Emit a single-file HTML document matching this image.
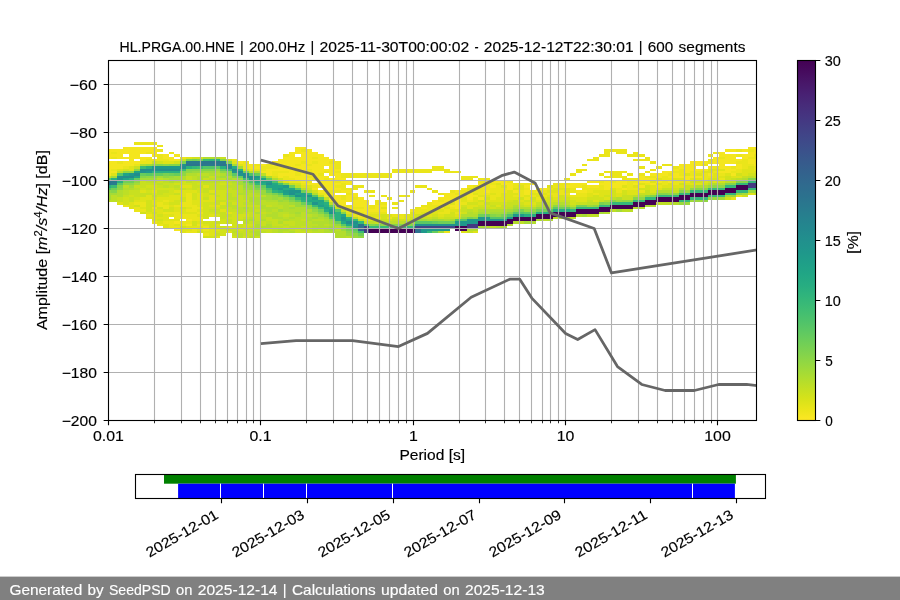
<!DOCTYPE html>
<html><head><meta charset="utf-8"><title>PPSD HL.PRGA.00.HNE</title>
<style>html,body{margin:0;padding:0;background:#fff;font-family:"Liberation Sans",sans-serif}svg{display:block;will-change:transform}</style></head>
<body>
<svg width="900" height="600" viewBox="0 0 900 600" font-family="Liberation Sans, sans-serif" font-size="14.3" fill="#000">
<style>text{stroke:#000;stroke-width:0.15px}text.w{stroke:#fff}</style>
<rect x="0" y="0" width="900" height="600" fill="#fff"/>
<defs><clipPath id="axclip"><rect x="108.5" y="60.5" width="648.0" height="360.0"/></clipPath>
<linearGradient id="cb" x1="0" y1="0" x2="0" y2="1"><stop offset="0.0000" stop-color="#440154"/><stop offset="0.0312" stop-color="#460b5e"/><stop offset="0.0625" stop-color="#481769"/><stop offset="0.0938" stop-color="#482173"/><stop offset="0.1250" stop-color="#472c7a"/><stop offset="0.1562" stop-color="#453581"/><stop offset="0.1875" stop-color="#423f85"/><stop offset="0.2188" stop-color="#3f4889"/><stop offset="0.2500" stop-color="#3b518b"/><stop offset="0.2812" stop-color="#375a8c"/><stop offset="0.3125" stop-color="#33628d"/><stop offset="0.3438" stop-color="#306a8e"/><stop offset="0.3750" stop-color="#2c718e"/><stop offset="0.4062" stop-color="#29798e"/><stop offset="0.4375" stop-color="#26818e"/><stop offset="0.4688" stop-color="#23888e"/><stop offset="0.5000" stop-color="#21908d"/><stop offset="0.5312" stop-color="#1f978b"/><stop offset="0.5625" stop-color="#1f9f88"/><stop offset="0.5938" stop-color="#21a685"/><stop offset="0.6250" stop-color="#27ad81"/><stop offset="0.6562" stop-color="#31b57b"/><stop offset="0.6875" stop-color="#3dbc74"/><stop offset="0.7188" stop-color="#4cc26c"/><stop offset="0.7500" stop-color="#5cc863"/><stop offset="0.7812" stop-color="#6ece58"/><stop offset="0.8125" stop-color="#81d34d"/><stop offset="0.8438" stop-color="#95d840"/><stop offset="0.8750" stop-color="#aadc32"/><stop offset="0.9062" stop-color="#c0df25"/><stop offset="0.9375" stop-color="#d5e21a"/><stop offset="0.9688" stop-color="#eae51a"/><stop offset="1.0000" stop-color="#fde725"/></linearGradient></defs>
<g id="heat" clip-path="url(#axclip)" shape-rendering="crispEdges">
<rect x="105.63" y="149.3" width="5.78" height="9.7" fill="#f4e61e"/>
<rect x="105.63" y="161.3" width="5.78" height="14.4" fill="#f4e61e"/>
<rect x="105.63" y="175.7" width="5.78" height="2.4" fill="#c8e020"/>
<rect x="105.63" y="178.1" width="5.78" height="2.4" fill="#5cc863"/>
<rect x="105.63" y="180.5" width="5.78" height="4.8" fill="#2b748e"/>
<rect x="105.63" y="185.3" width="5.78" height="2.4" fill="#2ab07f"/>
<rect x="105.63" y="187.7" width="5.78" height="2.4" fill="#54c568"/>
<rect x="105.63" y="190.1" width="5.78" height="2.4" fill="#90d743"/>
<rect x="105.63" y="192.5" width="5.78" height="7.2" fill="#a5db36"/>
<rect x="105.63" y="199.7" width="5.78" height="2.4" fill="#bddf26"/>
<rect x="111.37" y="149.3" width="5.78" height="2.4" fill="#f4e61e"/>
<rect x="111.37" y="151.7" width="5.78" height="2.4" fill="#eae51a"/>
<rect x="111.37" y="154.1" width="5.78" height="2.4" fill="#f4e61e"/>
<rect x="111.37" y="156.5" width="5.78" height="2.4" fill="#eae51a"/>
<rect x="111.37" y="161.3" width="5.78" height="7.2" fill="#f4e61e"/>
<rect x="111.37" y="168.5" width="5.78" height="2.4" fill="#eae51a"/>
<rect x="111.37" y="170.9" width="5.78" height="2.4" fill="#f4e61e"/>
<rect x="111.37" y="173.3" width="5.78" height="2.4" fill="#dfe318"/>
<rect x="111.37" y="175.7" width="5.78" height="2.4" fill="#a5db36"/>
<rect x="111.37" y="178.1" width="5.78" height="2.4" fill="#2ab07f"/>
<rect x="111.37" y="180.5" width="5.78" height="2.4" fill="#2a788e"/>
<rect x="111.37" y="182.9" width="5.78" height="2.4" fill="#287c8e"/>
<rect x="111.37" y="185.3" width="5.78" height="2.4" fill="#3bbb75"/>
<rect x="111.37" y="187.7" width="5.78" height="2.4" fill="#70cf57"/>
<rect x="111.37" y="190.1" width="5.78" height="2.4" fill="#86d549"/>
<rect x="111.37" y="192.5" width="5.78" height="2.4" fill="#a5db36"/>
<rect x="111.37" y="194.9" width="5.78" height="7.2" fill="#bddf26"/>
<rect x="117.10" y="149.3" width="5.78" height="9.7" fill="#f4e61e"/>
<rect x="117.10" y="161.3" width="5.78" height="2.4" fill="#eae51a"/>
<rect x="117.10" y="163.7" width="5.78" height="4.8" fill="#f4e61e"/>
<rect x="117.10" y="168.5" width="5.78" height="2.4" fill="#dfe318"/>
<rect x="117.10" y="170.9" width="5.78" height="2.4" fill="#bddf26"/>
<rect x="117.10" y="173.3" width="5.78" height="2.4" fill="#54c568"/>
<rect x="117.10" y="175.7" width="5.78" height="4.8" fill="#21908d"/>
<rect x="117.10" y="180.5" width="5.78" height="2.4" fill="#2ab07f"/>
<rect x="117.10" y="182.9" width="5.78" height="2.4" fill="#5cc863"/>
<rect x="117.10" y="185.3" width="5.78" height="2.4" fill="#86d549"/>
<rect x="117.10" y="187.7" width="5.78" height="2.4" fill="#90d743"/>
<rect x="117.10" y="190.1" width="5.78" height="7.2" fill="#b2dd2d"/>
<rect x="117.10" y="197.3" width="5.78" height="4.8" fill="#c8e020"/>
<rect x="117.10" y="202.1" width="5.78" height="2.4" fill="#dfe318"/>
<rect x="122.83" y="146.9" width="5.78" height="7.2" fill="#f4e61e"/>
<rect x="122.83" y="156.5" width="5.78" height="2.4" fill="#f4e61e"/>
<rect x="122.83" y="161.3" width="5.78" height="4.8" fill="#f4e61e"/>
<rect x="122.83" y="166.1" width="5.78" height="2.4" fill="#eae51a"/>
<rect x="122.83" y="168.5" width="5.78" height="2.4" fill="#d2e21b"/>
<rect x="122.83" y="170.9" width="5.78" height="2.4" fill="#90d743"/>
<rect x="122.83" y="173.3" width="5.78" height="2.4" fill="#20a486"/>
<rect x="122.83" y="175.7" width="5.78" height="2.4" fill="#228c8d"/>
<rect x="122.83" y="178.1" width="5.78" height="2.4" fill="#20a486"/>
<rect x="122.83" y="180.5" width="5.78" height="2.4" fill="#70cf57"/>
<rect x="122.83" y="182.9" width="5.78" height="2.4" fill="#90d743"/>
<rect x="122.83" y="185.3" width="5.78" height="2.4" fill="#bddf26"/>
<rect x="122.83" y="187.7" width="5.78" height="2.4" fill="#b2dd2d"/>
<rect x="122.83" y="190.1" width="5.78" height="4.8" fill="#bddf26"/>
<rect x="122.83" y="194.9" width="5.78" height="2.4" fill="#c8e020"/>
<rect x="122.83" y="197.3" width="5.78" height="7.2" fill="#d2e21b"/>
<rect x="122.83" y="204.5" width="5.78" height="2.4" fill="#eae51a"/>
<rect x="128.57" y="146.9" width="5.78" height="19.2" fill="#f4e61e"/>
<rect x="128.57" y="166.1" width="5.78" height="4.8" fill="#dfe318"/>
<rect x="128.57" y="170.9" width="5.78" height="2.4" fill="#90d743"/>
<rect x="128.57" y="173.3" width="5.78" height="2.4" fill="#1f988b"/>
<rect x="128.57" y="175.7" width="5.78" height="2.4" fill="#228c8d"/>
<rect x="128.57" y="178.1" width="5.78" height="2.4" fill="#2ab07f"/>
<rect x="128.57" y="180.5" width="5.78" height="2.4" fill="#70cf57"/>
<rect x="128.57" y="182.9" width="5.78" height="2.4" fill="#90d743"/>
<rect x="128.57" y="185.3" width="5.78" height="2.4" fill="#a5db36"/>
<rect x="128.57" y="187.7" width="5.78" height="2.4" fill="#b2dd2d"/>
<rect x="128.57" y="190.1" width="5.78" height="4.8" fill="#c8e020"/>
<rect x="128.57" y="194.9" width="5.78" height="2.4" fill="#d2e21b"/>
<rect x="128.57" y="197.3" width="5.78" height="4.8" fill="#c8e020"/>
<rect x="128.57" y="202.1" width="5.78" height="7.2" fill="#dfe318"/>
<rect x="134.30" y="142.1" width="5.78" height="2.4" fill="#eae51a"/>
<rect x="134.30" y="146.9" width="5.78" height="12.1" fill="#f4e61e"/>
<rect x="134.30" y="161.3" width="5.78" height="2.4" fill="#f4e61e"/>
<rect x="134.30" y="163.7" width="5.78" height="2.4" fill="#eae51a"/>
<rect x="134.30" y="166.1" width="5.78" height="2.4" fill="#c8e020"/>
<rect x="134.30" y="168.5" width="5.78" height="2.4" fill="#90d743"/>
<rect x="134.30" y="170.9" width="5.78" height="2.4" fill="#20a486"/>
<rect x="134.30" y="173.3" width="5.78" height="2.4" fill="#228c8d"/>
<rect x="134.30" y="175.7" width="5.78" height="2.4" fill="#20a486"/>
<rect x="134.30" y="178.1" width="5.78" height="2.4" fill="#67cc5c"/>
<rect x="134.30" y="180.5" width="5.78" height="2.4" fill="#90d743"/>
<rect x="134.30" y="182.9" width="5.78" height="2.4" fill="#a5db36"/>
<rect x="134.30" y="185.3" width="5.78" height="2.4" fill="#c8e020"/>
<rect x="134.30" y="187.7" width="5.78" height="2.4" fill="#bddf26"/>
<rect x="134.30" y="190.1" width="5.78" height="7.2" fill="#c8e020"/>
<rect x="134.30" y="197.3" width="5.78" height="2.4" fill="#d2e21b"/>
<rect x="134.30" y="199.7" width="5.78" height="2.4" fill="#dfe318"/>
<rect x="134.30" y="202.1" width="5.78" height="2.4" fill="#eae51a"/>
<rect x="134.30" y="204.5" width="5.78" height="2.4" fill="#d2e21b"/>
<rect x="134.30" y="206.9" width="5.78" height="4.8" fill="#eae51a"/>
<rect x="140.03" y="142.1" width="5.78" height="2.4" fill="#eae51a"/>
<rect x="140.03" y="146.9" width="5.78" height="7.2" fill="#f4e61e"/>
<rect x="140.03" y="156.5" width="5.78" height="4.8" fill="#f4e61e"/>
<rect x="140.03" y="161.3" width="5.78" height="2.4" fill="#eae51a"/>
<rect x="140.03" y="163.7" width="5.78" height="2.4" fill="#b2dd2d"/>
<rect x="140.03" y="166.1" width="5.78" height="2.4" fill="#3bbb75"/>
<rect x="140.03" y="168.5" width="5.78" height="2.4" fill="#228c8d"/>
<rect x="140.03" y="170.9" width="5.78" height="2.4" fill="#21908d"/>
<rect x="140.03" y="173.3" width="5.78" height="2.4" fill="#67cc5c"/>
<rect x="140.03" y="175.7" width="5.78" height="2.4" fill="#86d549"/>
<rect x="140.03" y="178.1" width="5.78" height="2.4" fill="#a5db36"/>
<rect x="140.03" y="180.5" width="5.78" height="7.2" fill="#c8e020"/>
<rect x="140.03" y="187.7" width="5.78" height="2.4" fill="#d2e21b"/>
<rect x="140.03" y="190.1" width="5.78" height="2.4" fill="#dfe318"/>
<rect x="140.03" y="192.5" width="5.78" height="4.8" fill="#c8e020"/>
<rect x="140.03" y="197.3" width="5.78" height="4.8" fill="#dfe318"/>
<rect x="140.03" y="202.1" width="5.78" height="4.8" fill="#eae51a"/>
<rect x="140.03" y="206.9" width="5.78" height="2.4" fill="#dfe318"/>
<rect x="140.03" y="209.3" width="5.78" height="2.4" fill="#eae51a"/>
<rect x="140.03" y="211.7" width="5.78" height="2.4" fill="#d2e21b"/>
<rect x="145.77" y="142.1" width="5.78" height="2.4" fill="#eae51a"/>
<rect x="145.77" y="146.9" width="5.78" height="4.8" fill="#f4e61e"/>
<rect x="145.77" y="151.7" width="5.78" height="2.4" fill="#eae51a"/>
<rect x="145.77" y="156.5" width="5.78" height="2.4" fill="#f4e61e"/>
<rect x="145.77" y="158.9" width="5.78" height="4.8" fill="#eae51a"/>
<rect x="145.77" y="163.7" width="5.78" height="2.4" fill="#a5db36"/>
<rect x="145.77" y="166.1" width="5.78" height="2.4" fill="#2ab07f"/>
<rect x="145.77" y="168.5" width="5.78" height="2.4" fill="#228c8d"/>
<rect x="145.77" y="170.9" width="5.78" height="2.4" fill="#1f988b"/>
<rect x="145.77" y="173.3" width="5.78" height="2.4" fill="#5cc863"/>
<rect x="145.77" y="175.7" width="5.78" height="2.4" fill="#90d743"/>
<rect x="145.77" y="178.1" width="5.78" height="2.4" fill="#a5db36"/>
<rect x="145.77" y="180.5" width="5.78" height="2.4" fill="#bddf26"/>
<rect x="145.77" y="182.9" width="5.78" height="2.4" fill="#c8e020"/>
<rect x="145.77" y="185.3" width="5.78" height="2.4" fill="#d2e21b"/>
<rect x="145.77" y="187.7" width="5.78" height="2.4" fill="#c8e020"/>
<rect x="145.77" y="190.1" width="5.78" height="2.4" fill="#d2e21b"/>
<rect x="145.77" y="192.5" width="5.78" height="2.4" fill="#c8e020"/>
<rect x="145.77" y="194.9" width="5.78" height="4.8" fill="#dfe318"/>
<rect x="145.77" y="199.7" width="5.78" height="12.1" fill="#d2e21b"/>
<rect x="145.77" y="211.7" width="5.78" height="2.4" fill="#dfe318"/>
<rect x="145.77" y="214.1" width="5.78" height="2.4" fill="#eae51a"/>
<rect x="145.77" y="216.5" width="5.78" height="2.4" fill="#dfe318"/>
<rect x="151.50" y="142.1" width="5.78" height="2.4" fill="#eae51a"/>
<rect x="151.50" y="146.9" width="5.78" height="9.7" fill="#f4e61e"/>
<rect x="151.50" y="158.9" width="5.78" height="2.4" fill="#eae51a"/>
<rect x="151.50" y="161.3" width="5.78" height="2.4" fill="#c8e020"/>
<rect x="151.50" y="163.7" width="5.78" height="2.4" fill="#90d743"/>
<rect x="151.50" y="166.1" width="5.78" height="2.4" fill="#1f988b"/>
<rect x="151.50" y="168.5" width="5.78" height="2.4" fill="#228c8d"/>
<rect x="151.50" y="170.9" width="5.78" height="2.4" fill="#2ab07f"/>
<rect x="151.50" y="173.3" width="5.78" height="2.4" fill="#67cc5c"/>
<rect x="151.50" y="175.7" width="5.78" height="2.4" fill="#90d743"/>
<rect x="151.50" y="178.1" width="5.78" height="2.4" fill="#a5db36"/>
<rect x="151.50" y="180.5" width="5.78" height="2.4" fill="#bddf26"/>
<rect x="151.50" y="182.9" width="5.78" height="2.4" fill="#c8e020"/>
<rect x="151.50" y="185.3" width="5.78" height="4.8" fill="#d2e21b"/>
<rect x="151.50" y="190.1" width="5.78" height="2.4" fill="#dfe318"/>
<rect x="151.50" y="192.5" width="5.78" height="2.4" fill="#d2e21b"/>
<rect x="151.50" y="194.9" width="5.78" height="2.4" fill="#c8e020"/>
<rect x="151.50" y="197.3" width="5.78" height="2.4" fill="#d2e21b"/>
<rect x="151.50" y="199.7" width="5.78" height="4.8" fill="#dfe318"/>
<rect x="151.50" y="204.5" width="5.78" height="2.4" fill="#d2e21b"/>
<rect x="151.50" y="206.9" width="5.78" height="2.4" fill="#eae51a"/>
<rect x="151.50" y="209.3" width="5.78" height="2.4" fill="#dfe318"/>
<rect x="151.50" y="211.7" width="5.78" height="2.4" fill="#d2e21b"/>
<rect x="151.50" y="214.1" width="5.78" height="7.2" fill="#dfe318"/>
<rect x="151.50" y="221.3" width="5.78" height="2.4" fill="#eae51a"/>
<rect x="157.23" y="144.5" width="5.78" height="2.4" fill="#eae51a"/>
<rect x="157.23" y="149.3" width="5.78" height="2.4" fill="#eae51a"/>
<rect x="157.23" y="154.1" width="5.78" height="7.2" fill="#eae51a"/>
<rect x="157.23" y="161.3" width="5.78" height="2.4" fill="#d2e21b"/>
<rect x="157.23" y="163.7" width="5.78" height="2.4" fill="#86d549"/>
<rect x="157.23" y="166.1" width="5.78" height="2.4" fill="#1f988b"/>
<rect x="157.23" y="168.5" width="5.78" height="2.4" fill="#228c8d"/>
<rect x="157.23" y="170.9" width="5.78" height="2.4" fill="#2ab07f"/>
<rect x="157.23" y="173.3" width="5.78" height="2.4" fill="#67cc5c"/>
<rect x="157.23" y="175.7" width="5.78" height="2.4" fill="#a5db36"/>
<rect x="157.23" y="178.1" width="5.78" height="2.4" fill="#bddf26"/>
<rect x="157.23" y="180.5" width="5.78" height="2.4" fill="#c8e020"/>
<rect x="157.23" y="182.9" width="5.78" height="2.4" fill="#bddf26"/>
<rect x="157.23" y="185.3" width="5.78" height="2.4" fill="#c8e020"/>
<rect x="157.23" y="187.7" width="5.78" height="2.4" fill="#d2e21b"/>
<rect x="157.23" y="190.1" width="5.78" height="4.8" fill="#c8e020"/>
<rect x="157.23" y="194.9" width="5.78" height="2.4" fill="#d2e21b"/>
<rect x="157.23" y="197.3" width="5.78" height="4.8" fill="#dfe318"/>
<rect x="157.23" y="202.1" width="5.78" height="4.8" fill="#eae51a"/>
<rect x="157.23" y="206.9" width="5.78" height="2.4" fill="#d2e21b"/>
<rect x="157.23" y="209.3" width="5.78" height="4.8" fill="#dfe318"/>
<rect x="157.23" y="214.1" width="5.78" height="2.4" fill="#d2e21b"/>
<rect x="157.23" y="216.5" width="5.78" height="2.4" fill="#dfe318"/>
<rect x="157.23" y="218.9" width="5.78" height="2.4" fill="#d2e21b"/>
<rect x="157.23" y="221.3" width="5.78" height="2.4" fill="#dfe318"/>
<rect x="157.23" y="223.7" width="5.78" height="2.4" fill="#eae51a"/>
<rect x="162.97" y="154.1" width="5.78" height="4.8" fill="#f4e61e"/>
<rect x="162.97" y="158.9" width="5.78" height="2.4" fill="#eae51a"/>
<rect x="162.97" y="161.3" width="5.78" height="2.4" fill="#dfe318"/>
<rect x="162.97" y="163.7" width="5.78" height="2.4" fill="#90d743"/>
<rect x="162.97" y="166.1" width="5.78" height="2.4" fill="#1f988b"/>
<rect x="162.97" y="168.5" width="5.78" height="2.4" fill="#228c8d"/>
<rect x="162.97" y="170.9" width="5.78" height="2.4" fill="#2ab07f"/>
<rect x="162.97" y="173.3" width="5.78" height="2.4" fill="#7ad151"/>
<rect x="162.97" y="175.7" width="5.78" height="2.4" fill="#90d743"/>
<rect x="162.97" y="178.1" width="5.78" height="2.4" fill="#b2dd2d"/>
<rect x="162.97" y="180.5" width="5.78" height="2.4" fill="#bddf26"/>
<rect x="162.97" y="182.9" width="5.78" height="2.4" fill="#c8e020"/>
<rect x="162.97" y="185.3" width="5.78" height="2.4" fill="#bddf26"/>
<rect x="162.97" y="187.7" width="5.78" height="2.4" fill="#d2e21b"/>
<rect x="162.97" y="190.1" width="5.78" height="2.4" fill="#c8e020"/>
<rect x="162.97" y="192.5" width="5.78" height="4.8" fill="#d2e21b"/>
<rect x="162.97" y="197.3" width="5.78" height="2.4" fill="#dfe318"/>
<rect x="162.97" y="199.7" width="5.78" height="2.4" fill="#eae51a"/>
<rect x="162.97" y="202.1" width="5.78" height="2.4" fill="#dfe318"/>
<rect x="162.97" y="204.5" width="5.78" height="4.8" fill="#eae51a"/>
<rect x="162.97" y="209.3" width="5.78" height="2.4" fill="#d2e21b"/>
<rect x="162.97" y="211.7" width="5.78" height="2.4" fill="#eae51a"/>
<rect x="162.97" y="214.1" width="5.78" height="7.2" fill="#dfe318"/>
<rect x="162.97" y="221.3" width="5.78" height="2.4" fill="#eae51a"/>
<rect x="162.97" y="223.7" width="5.78" height="4.8" fill="#dfe318"/>
<rect x="168.70" y="151.7" width="5.78" height="2.4" fill="#eae51a"/>
<rect x="168.70" y="156.5" width="5.78" height="4.8" fill="#f4e61e"/>
<rect x="168.70" y="161.3" width="5.78" height="2.4" fill="#dfe318"/>
<rect x="168.70" y="163.7" width="5.78" height="2.4" fill="#86d549"/>
<rect x="168.70" y="166.1" width="5.78" height="2.4" fill="#1f988b"/>
<rect x="168.70" y="168.5" width="5.78" height="2.4" fill="#228c8d"/>
<rect x="168.70" y="170.9" width="5.78" height="2.4" fill="#2ab07f"/>
<rect x="168.70" y="173.3" width="5.78" height="2.4" fill="#70cf57"/>
<rect x="168.70" y="175.7" width="5.78" height="2.4" fill="#9bd93c"/>
<rect x="168.70" y="178.1" width="5.78" height="2.4" fill="#a5db36"/>
<rect x="168.70" y="180.5" width="5.78" height="2.4" fill="#b2dd2d"/>
<rect x="168.70" y="182.9" width="5.78" height="4.8" fill="#c8e020"/>
<rect x="168.70" y="187.7" width="5.78" height="7.2" fill="#d2e21b"/>
<rect x="168.70" y="194.9" width="5.78" height="7.2" fill="#dfe318"/>
<rect x="168.70" y="202.1" width="5.78" height="2.4" fill="#d2e21b"/>
<rect x="168.70" y="204.5" width="5.78" height="2.4" fill="#dfe318"/>
<rect x="168.70" y="206.9" width="5.78" height="4.8" fill="#d2e21b"/>
<rect x="168.70" y="211.7" width="5.78" height="2.4" fill="#eae51a"/>
<rect x="168.70" y="214.1" width="5.78" height="2.4" fill="#dfe318"/>
<rect x="168.70" y="218.9" width="5.78" height="2.4" fill="#dfe318"/>
<rect x="168.70" y="221.3" width="5.78" height="7.2" fill="#eae51a"/>
<rect x="174.43" y="154.1" width="5.78" height="2.4" fill="#f4e61e"/>
<rect x="174.43" y="158.9" width="5.78" height="2.4" fill="#f4e61e"/>
<rect x="174.43" y="161.3" width="5.78" height="2.4" fill="#d2e21b"/>
<rect x="174.43" y="163.7" width="5.78" height="2.4" fill="#86d549"/>
<rect x="174.43" y="166.1" width="5.78" height="2.4" fill="#1f988b"/>
<rect x="174.43" y="168.5" width="5.78" height="2.4" fill="#228c8d"/>
<rect x="174.43" y="170.9" width="5.78" height="2.4" fill="#2ab07f"/>
<rect x="174.43" y="173.3" width="5.78" height="2.4" fill="#67cc5c"/>
<rect x="174.43" y="175.7" width="5.78" height="4.8" fill="#a5db36"/>
<rect x="174.43" y="180.5" width="5.78" height="2.4" fill="#bddf26"/>
<rect x="174.43" y="182.9" width="5.78" height="2.4" fill="#d2e21b"/>
<rect x="174.43" y="185.3" width="5.78" height="2.4" fill="#bddf26"/>
<rect x="174.43" y="187.7" width="5.78" height="2.4" fill="#c8e020"/>
<rect x="174.43" y="190.1" width="5.78" height="2.4" fill="#dfe318"/>
<rect x="174.43" y="192.5" width="5.78" height="2.4" fill="#c8e020"/>
<rect x="174.43" y="194.9" width="5.78" height="4.8" fill="#dfe318"/>
<rect x="174.43" y="199.7" width="5.78" height="4.8" fill="#d2e21b"/>
<rect x="174.43" y="204.5" width="5.78" height="2.4" fill="#eae51a"/>
<rect x="174.43" y="206.9" width="5.78" height="4.8" fill="#dfe318"/>
<rect x="174.43" y="211.7" width="5.78" height="7.2" fill="#eae51a"/>
<rect x="174.43" y="218.9" width="5.78" height="2.4" fill="#dfe318"/>
<rect x="174.43" y="221.3" width="5.78" height="2.4" fill="#f4e61e"/>
<rect x="174.43" y="223.7" width="5.78" height="2.4" fill="#dfe318"/>
<rect x="174.43" y="226.1" width="5.78" height="2.4" fill="#eae51a"/>
<rect x="174.43" y="228.5" width="5.78" height="2.4" fill="#f4e61e"/>
<rect x="180.17" y="156.5" width="5.78" height="2.4" fill="#eae51a"/>
<rect x="180.17" y="158.9" width="5.78" height="2.4" fill="#c8e020"/>
<rect x="180.17" y="161.3" width="5.78" height="2.4" fill="#7ad151"/>
<rect x="180.17" y="163.7" width="5.78" height="2.4" fill="#21908d"/>
<rect x="180.17" y="166.1" width="5.78" height="2.4" fill="#228c8d"/>
<rect x="180.17" y="168.5" width="5.78" height="2.4" fill="#3bbb75"/>
<rect x="180.17" y="170.9" width="5.78" height="2.4" fill="#86d549"/>
<rect x="180.17" y="173.3" width="5.78" height="2.4" fill="#90d743"/>
<rect x="180.17" y="175.7" width="5.78" height="4.8" fill="#b2dd2d"/>
<rect x="180.17" y="180.5" width="5.78" height="4.8" fill="#d2e21b"/>
<rect x="180.17" y="185.3" width="5.78" height="2.4" fill="#dfe318"/>
<rect x="180.17" y="187.7" width="5.78" height="2.4" fill="#c8e020"/>
<rect x="180.17" y="190.1" width="5.78" height="7.2" fill="#dfe318"/>
<rect x="180.17" y="197.3" width="5.78" height="4.8" fill="#d2e21b"/>
<rect x="180.17" y="202.1" width="5.78" height="4.8" fill="#eae51a"/>
<rect x="180.17" y="206.9" width="5.78" height="2.4" fill="#d2e21b"/>
<rect x="180.17" y="209.3" width="5.78" height="4.8" fill="#dfe318"/>
<rect x="180.17" y="214.1" width="5.78" height="4.8" fill="#eae51a"/>
<rect x="180.17" y="221.3" width="5.78" height="4.8" fill="#eae51a"/>
<rect x="180.17" y="226.1" width="5.78" height="2.4" fill="#d2e21b"/>
<rect x="180.17" y="228.5" width="5.78" height="4.8" fill="#dfe318"/>
<rect x="185.90" y="156.5" width="5.78" height="2.4" fill="#dfe318"/>
<rect x="185.90" y="158.9" width="5.78" height="2.4" fill="#7ad151"/>
<rect x="185.90" y="161.3" width="5.78" height="2.4" fill="#2a788e"/>
<rect x="185.90" y="163.7" width="5.78" height="2.4" fill="#2b748e"/>
<rect x="185.90" y="166.1" width="5.78" height="2.4" fill="#2ab07f"/>
<rect x="185.90" y="168.5" width="5.78" height="2.4" fill="#86d549"/>
<rect x="185.90" y="170.9" width="5.78" height="2.4" fill="#90d743"/>
<rect x="185.90" y="173.3" width="5.78" height="2.4" fill="#b2dd2d"/>
<rect x="185.90" y="175.7" width="5.78" height="4.8" fill="#c8e020"/>
<rect x="185.90" y="180.5" width="5.78" height="2.4" fill="#bddf26"/>
<rect x="185.90" y="182.9" width="5.78" height="2.4" fill="#d2e21b"/>
<rect x="185.90" y="185.3" width="5.78" height="2.4" fill="#dfe318"/>
<rect x="185.90" y="187.7" width="5.78" height="2.4" fill="#d2e21b"/>
<rect x="185.90" y="190.1" width="5.78" height="2.4" fill="#dfe318"/>
<rect x="185.90" y="192.5" width="5.78" height="14.4" fill="#eae51a"/>
<rect x="185.90" y="206.9" width="5.78" height="2.4" fill="#dfe318"/>
<rect x="185.90" y="209.3" width="5.78" height="2.4" fill="#eae51a"/>
<rect x="185.90" y="211.7" width="5.78" height="2.4" fill="#dfe318"/>
<rect x="185.90" y="214.1" width="5.78" height="4.8" fill="#eae51a"/>
<rect x="185.90" y="218.9" width="5.78" height="2.4" fill="#f4e61e"/>
<rect x="185.90" y="221.3" width="5.78" height="2.4" fill="#eae51a"/>
<rect x="185.90" y="223.7" width="5.78" height="2.4" fill="#f4e61e"/>
<rect x="185.90" y="226.1" width="5.78" height="4.8" fill="#dfe318"/>
<rect x="185.90" y="230.9" width="5.78" height="2.4" fill="#eae51a"/>
<rect x="191.63" y="156.5" width="5.78" height="2.4" fill="#d2e21b"/>
<rect x="191.63" y="158.9" width="5.78" height="2.4" fill="#70cf57"/>
<rect x="191.63" y="161.3" width="5.78" height="2.4" fill="#2a788e"/>
<rect x="191.63" y="163.7" width="5.78" height="2.4" fill="#2b748e"/>
<rect x="191.63" y="166.1" width="5.78" height="2.4" fill="#35b779"/>
<rect x="191.63" y="168.5" width="5.78" height="2.4" fill="#86d549"/>
<rect x="191.63" y="170.9" width="5.78" height="2.4" fill="#9bd93c"/>
<rect x="191.63" y="173.3" width="5.78" height="2.4" fill="#b2dd2d"/>
<rect x="191.63" y="175.7" width="5.78" height="4.8" fill="#bddf26"/>
<rect x="191.63" y="180.5" width="5.78" height="9.7" fill="#c8e020"/>
<rect x="191.63" y="190.1" width="5.78" height="2.4" fill="#dfe318"/>
<rect x="191.63" y="192.5" width="5.78" height="7.2" fill="#d2e21b"/>
<rect x="191.63" y="199.7" width="5.78" height="4.8" fill="#dfe318"/>
<rect x="191.63" y="204.5" width="5.78" height="7.2" fill="#eae51a"/>
<rect x="191.63" y="211.7" width="5.78" height="2.4" fill="#dfe318"/>
<rect x="191.63" y="214.1" width="5.78" height="7.2" fill="#eae51a"/>
<rect x="191.63" y="221.3" width="5.78" height="4.8" fill="#d2e21b"/>
<rect x="191.63" y="226.1" width="5.78" height="2.4" fill="#dfe318"/>
<rect x="191.63" y="228.5" width="5.78" height="4.8" fill="#eae51a"/>
<rect x="197.37" y="156.5" width="5.78" height="2.4" fill="#d2e21b"/>
<rect x="197.37" y="158.9" width="5.78" height="2.4" fill="#7ad151"/>
<rect x="197.37" y="161.3" width="5.78" height="2.4" fill="#2a788e"/>
<rect x="197.37" y="163.7" width="5.78" height="2.4" fill="#2b748e"/>
<rect x="197.37" y="166.1" width="5.78" height="2.4" fill="#3bbb75"/>
<rect x="197.37" y="168.5" width="5.78" height="2.4" fill="#86d549"/>
<rect x="197.37" y="170.9" width="5.78" height="2.4" fill="#9bd93c"/>
<rect x="197.37" y="173.3" width="5.78" height="2.4" fill="#bddf26"/>
<rect x="197.37" y="175.7" width="5.78" height="4.8" fill="#b2dd2d"/>
<rect x="197.37" y="180.5" width="5.78" height="2.4" fill="#c8e020"/>
<rect x="197.37" y="182.9" width="5.78" height="2.4" fill="#d2e21b"/>
<rect x="197.37" y="185.3" width="5.78" height="2.4" fill="#c8e020"/>
<rect x="197.37" y="187.7" width="5.78" height="4.8" fill="#d2e21b"/>
<rect x="197.37" y="192.5" width="5.78" height="14.4" fill="#dfe318"/>
<rect x="197.37" y="206.9" width="5.78" height="2.4" fill="#eae51a"/>
<rect x="197.37" y="209.3" width="5.78" height="2.4" fill="#dfe318"/>
<rect x="197.37" y="211.7" width="5.78" height="2.4" fill="#eae51a"/>
<rect x="197.37" y="214.1" width="5.78" height="2.4" fill="#dfe318"/>
<rect x="197.37" y="216.5" width="5.78" height="4.8" fill="#eae51a"/>
<rect x="197.37" y="221.3" width="5.78" height="2.4" fill="#dfe318"/>
<rect x="197.37" y="223.7" width="5.78" height="2.4" fill="#eae51a"/>
<rect x="197.37" y="226.1" width="5.78" height="4.8" fill="#dfe318"/>
<rect x="197.37" y="230.9" width="5.78" height="2.4" fill="#d2e21b"/>
<rect x="203.10" y="156.5" width="5.78" height="2.4" fill="#b2dd2d"/>
<rect x="203.10" y="158.9" width="5.78" height="2.4" fill="#3bbb75"/>
<rect x="203.10" y="161.3" width="5.78" height="2.4" fill="#2b748e"/>
<rect x="203.10" y="163.7" width="5.78" height="2.4" fill="#2a788e"/>
<rect x="203.10" y="166.1" width="5.78" height="2.4" fill="#54c568"/>
<rect x="203.10" y="168.5" width="5.78" height="2.4" fill="#86d549"/>
<rect x="203.10" y="170.9" width="5.78" height="2.4" fill="#a5db36"/>
<rect x="203.10" y="173.3" width="5.78" height="2.4" fill="#bddf26"/>
<rect x="203.10" y="175.7" width="5.78" height="2.4" fill="#b2dd2d"/>
<rect x="203.10" y="178.1" width="5.78" height="2.4" fill="#c8e020"/>
<rect x="203.10" y="180.5" width="5.78" height="2.4" fill="#bddf26"/>
<rect x="203.10" y="182.9" width="5.78" height="2.4" fill="#c8e020"/>
<rect x="203.10" y="185.3" width="5.78" height="2.4" fill="#dfe318"/>
<rect x="203.10" y="187.7" width="5.78" height="4.8" fill="#c8e020"/>
<rect x="203.10" y="192.5" width="5.78" height="4.8" fill="#d2e21b"/>
<rect x="203.10" y="197.3" width="5.78" height="2.4" fill="#c8e020"/>
<rect x="203.10" y="199.7" width="5.78" height="2.4" fill="#dfe318"/>
<rect x="203.10" y="202.1" width="5.78" height="16.9" fill="#d2e21b"/>
<rect x="203.10" y="221.3" width="5.78" height="2.4" fill="#d2e21b"/>
<rect x="203.10" y="223.7" width="5.78" height="2.4" fill="#dfe318"/>
<rect x="203.10" y="226.1" width="5.78" height="4.8" fill="#eae51a"/>
<rect x="203.10" y="230.9" width="5.78" height="2.4" fill="#dfe318"/>
<rect x="203.10" y="233.3" width="5.78" height="2.4" fill="#eae51a"/>
<rect x="203.10" y="235.7" width="5.78" height="2.4" fill="#d2e21b"/>
<rect x="208.84" y="156.5" width="5.78" height="2.4" fill="#b2dd2d"/>
<rect x="208.84" y="158.9" width="5.78" height="2.4" fill="#35b779"/>
<rect x="208.84" y="161.3" width="5.78" height="2.4" fill="#2b748e"/>
<rect x="208.84" y="163.7" width="5.78" height="2.4" fill="#2a788e"/>
<rect x="208.84" y="166.1" width="5.78" height="2.4" fill="#54c568"/>
<rect x="208.84" y="168.5" width="5.78" height="2.4" fill="#86d549"/>
<rect x="208.84" y="170.9" width="5.78" height="2.4" fill="#a5db36"/>
<rect x="208.84" y="173.3" width="5.78" height="2.4" fill="#b2dd2d"/>
<rect x="208.84" y="175.7" width="5.78" height="2.4" fill="#c8e020"/>
<rect x="208.84" y="178.1" width="5.78" height="4.8" fill="#bddf26"/>
<rect x="208.84" y="182.9" width="5.78" height="7.2" fill="#c8e020"/>
<rect x="208.84" y="190.1" width="5.78" height="2.4" fill="#dfe318"/>
<rect x="208.84" y="192.5" width="5.78" height="2.4" fill="#c8e020"/>
<rect x="208.84" y="194.9" width="5.78" height="7.2" fill="#dfe318"/>
<rect x="208.84" y="202.1" width="5.78" height="2.4" fill="#d2e21b"/>
<rect x="208.84" y="204.5" width="5.78" height="2.4" fill="#dfe318"/>
<rect x="208.84" y="206.9" width="5.78" height="2.4" fill="#d2e21b"/>
<rect x="208.84" y="209.3" width="5.78" height="2.4" fill="#c8e020"/>
<rect x="208.84" y="211.7" width="5.78" height="2.4" fill="#d2e21b"/>
<rect x="208.84" y="214.1" width="5.78" height="2.4" fill="#dfe318"/>
<rect x="208.84" y="221.3" width="5.78" height="7.2" fill="#d2e21b"/>
<rect x="208.84" y="228.5" width="5.78" height="7.2" fill="#dfe318"/>
<rect x="208.84" y="235.7" width="5.78" height="2.4" fill="#d2e21b"/>
<rect x="214.57" y="156.5" width="5.78" height="2.4" fill="#b2dd2d"/>
<rect x="214.57" y="158.9" width="5.78" height="2.4" fill="#2ab07f"/>
<rect x="214.57" y="161.3" width="5.78" height="2.4" fill="#2b748e"/>
<rect x="214.57" y="163.7" width="5.78" height="2.4" fill="#2a788e"/>
<rect x="214.57" y="166.1" width="5.78" height="2.4" fill="#5cc863"/>
<rect x="214.57" y="168.5" width="5.78" height="2.4" fill="#9bd93c"/>
<rect x="214.57" y="170.9" width="5.78" height="2.4" fill="#b2dd2d"/>
<rect x="214.57" y="173.3" width="5.78" height="2.4" fill="#bddf26"/>
<rect x="214.57" y="175.7" width="5.78" height="2.4" fill="#b2dd2d"/>
<rect x="214.57" y="178.1" width="5.78" height="4.8" fill="#bddf26"/>
<rect x="214.57" y="182.9" width="5.78" height="7.2" fill="#c8e020"/>
<rect x="214.57" y="190.1" width="5.78" height="4.8" fill="#d2e21b"/>
<rect x="214.57" y="194.9" width="5.78" height="2.4" fill="#c8e020"/>
<rect x="214.57" y="197.3" width="5.78" height="2.4" fill="#d2e21b"/>
<rect x="214.57" y="199.7" width="5.78" height="4.8" fill="#c8e020"/>
<rect x="214.57" y="204.5" width="5.78" height="2.4" fill="#dfe318"/>
<rect x="214.57" y="206.9" width="5.78" height="2.4" fill="#d2e21b"/>
<rect x="214.57" y="209.3" width="5.78" height="4.8" fill="#c8e020"/>
<rect x="214.57" y="214.1" width="5.78" height="2.4" fill="#d2e21b"/>
<rect x="214.57" y="221.3" width="5.78" height="2.4" fill="#c8e020"/>
<rect x="214.57" y="223.7" width="5.78" height="2.4" fill="#dfe318"/>
<rect x="214.57" y="226.1" width="5.78" height="2.4" fill="#d2e21b"/>
<rect x="214.57" y="228.5" width="5.78" height="2.4" fill="#dfe318"/>
<rect x="214.57" y="230.9" width="5.78" height="2.4" fill="#d2e21b"/>
<rect x="214.57" y="233.3" width="5.78" height="2.4" fill="#c8e020"/>
<rect x="214.57" y="235.7" width="5.78" height="2.4" fill="#dfe318"/>
<rect x="220.30" y="156.5" width="5.78" height="2.4" fill="#c8e020"/>
<rect x="220.30" y="158.9" width="5.78" height="2.4" fill="#86d549"/>
<rect x="220.30" y="161.3" width="5.78" height="2.4" fill="#2a788e"/>
<rect x="220.30" y="163.7" width="5.78" height="2.4" fill="#2b748e"/>
<rect x="220.30" y="166.1" width="5.78" height="2.4" fill="#2ab07f"/>
<rect x="220.30" y="168.5" width="5.78" height="2.4" fill="#67cc5c"/>
<rect x="220.30" y="170.9" width="5.78" height="2.4" fill="#90d743"/>
<rect x="220.30" y="173.3" width="5.78" height="2.4" fill="#b2dd2d"/>
<rect x="220.30" y="175.7" width="5.78" height="2.4" fill="#a5db36"/>
<rect x="220.30" y="178.1" width="5.78" height="2.4" fill="#bddf26"/>
<rect x="220.30" y="180.5" width="5.78" height="2.4" fill="#c8e020"/>
<rect x="220.30" y="182.9" width="5.78" height="2.4" fill="#d2e21b"/>
<rect x="220.30" y="185.3" width="5.78" height="4.8" fill="#c8e020"/>
<rect x="220.30" y="190.1" width="5.78" height="9.7" fill="#d2e21b"/>
<rect x="220.30" y="199.7" width="5.78" height="2.4" fill="#c8e020"/>
<rect x="220.30" y="202.1" width="5.78" height="2.4" fill="#dfe318"/>
<rect x="220.30" y="204.5" width="5.78" height="4.8" fill="#c8e020"/>
<rect x="220.30" y="209.3" width="5.78" height="2.4" fill="#dfe318"/>
<rect x="220.30" y="211.7" width="5.78" height="7.2" fill="#c8e020"/>
<rect x="220.30" y="218.9" width="5.78" height="4.8" fill="#d2e21b"/>
<rect x="220.30" y="226.1" width="5.78" height="2.4" fill="#c8e020"/>
<rect x="220.30" y="228.5" width="5.78" height="7.2" fill="#d2e21b"/>
<rect x="226.04" y="158.9" width="5.78" height="2.4" fill="#d2e21b"/>
<rect x="226.04" y="161.3" width="5.78" height="2.4" fill="#86d549"/>
<rect x="226.04" y="163.7" width="5.78" height="2.4" fill="#23888e"/>
<rect x="226.04" y="166.1" width="5.78" height="2.4" fill="#25848e"/>
<rect x="226.04" y="168.5" width="5.78" height="2.4" fill="#3bbb75"/>
<rect x="226.04" y="170.9" width="5.78" height="2.4" fill="#86d549"/>
<rect x="226.04" y="173.3" width="5.78" height="2.4" fill="#90d743"/>
<rect x="226.04" y="175.7" width="5.78" height="2.4" fill="#b2dd2d"/>
<rect x="226.04" y="178.1" width="5.78" height="2.4" fill="#a5db36"/>
<rect x="226.04" y="180.5" width="5.78" height="2.4" fill="#bddf26"/>
<rect x="226.04" y="182.9" width="5.78" height="2.4" fill="#c8e020"/>
<rect x="226.04" y="185.3" width="5.78" height="2.4" fill="#bddf26"/>
<rect x="226.04" y="187.7" width="5.78" height="4.8" fill="#c8e020"/>
<rect x="226.04" y="192.5" width="5.78" height="7.2" fill="#bddf26"/>
<rect x="226.04" y="199.7" width="5.78" height="2.4" fill="#c8e020"/>
<rect x="226.04" y="202.1" width="5.78" height="4.8" fill="#bddf26"/>
<rect x="226.04" y="206.9" width="5.78" height="4.8" fill="#c8e020"/>
<rect x="226.04" y="211.7" width="5.78" height="2.4" fill="#dfe318"/>
<rect x="226.04" y="214.1" width="5.78" height="2.4" fill="#c8e020"/>
<rect x="226.04" y="216.5" width="5.78" height="2.4" fill="#d2e21b"/>
<rect x="226.04" y="218.9" width="5.78" height="4.8" fill="#c8e020"/>
<rect x="226.04" y="226.1" width="5.78" height="2.4" fill="#dfe318"/>
<rect x="226.04" y="228.5" width="5.78" height="2.4" fill="#c8e020"/>
<rect x="226.04" y="230.9" width="5.78" height="2.4" fill="#dfe318"/>
<rect x="231.77" y="158.9" width="5.78" height="2.4" fill="#eae51a"/>
<rect x="231.77" y="161.3" width="5.78" height="2.4" fill="#dfe318"/>
<rect x="231.77" y="163.7" width="5.78" height="2.4" fill="#a5db36"/>
<rect x="231.77" y="166.1" width="5.78" height="2.4" fill="#25ac82"/>
<rect x="231.77" y="168.5" width="5.78" height="2.4" fill="#23888e"/>
<rect x="231.77" y="170.9" width="5.78" height="2.4" fill="#1f948c"/>
<rect x="231.77" y="173.3" width="5.78" height="2.4" fill="#5cc863"/>
<rect x="231.77" y="175.7" width="5.78" height="2.4" fill="#86d549"/>
<rect x="231.77" y="178.1" width="5.78" height="4.8" fill="#b2dd2d"/>
<rect x="231.77" y="182.9" width="5.78" height="7.2" fill="#bddf26"/>
<rect x="231.77" y="190.1" width="5.78" height="7.2" fill="#c8e020"/>
<rect x="231.77" y="197.3" width="5.78" height="2.4" fill="#bddf26"/>
<rect x="231.77" y="199.7" width="5.78" height="2.4" fill="#c8e020"/>
<rect x="231.77" y="202.1" width="5.78" height="2.4" fill="#d2e21b"/>
<rect x="231.77" y="204.5" width="5.78" height="4.8" fill="#bddf26"/>
<rect x="231.77" y="209.3" width="5.78" height="2.4" fill="#c8e020"/>
<rect x="231.77" y="211.7" width="5.78" height="16.9" fill="#d2e21b"/>
<rect x="231.77" y="228.5" width="5.78" height="2.4" fill="#c8e020"/>
<rect x="231.77" y="230.9" width="5.78" height="2.4" fill="#bddf26"/>
<rect x="231.77" y="233.3" width="5.78" height="2.4" fill="#c8e020"/>
<rect x="231.77" y="235.7" width="5.78" height="2.4" fill="#d2e21b"/>
<rect x="237.50" y="161.3" width="5.78" height="2.4" fill="#f4e61e"/>
<rect x="237.50" y="163.7" width="5.78" height="2.4" fill="#dfe318"/>
<rect x="237.50" y="166.1" width="5.78" height="2.4" fill="#a5db36"/>
<rect x="237.50" y="168.5" width="5.78" height="2.4" fill="#2ab07f"/>
<rect x="237.50" y="170.9" width="5.78" height="2.4" fill="#23888e"/>
<rect x="237.50" y="173.3" width="5.78" height="2.4" fill="#1f948c"/>
<rect x="237.50" y="175.7" width="5.78" height="2.4" fill="#67cc5c"/>
<rect x="237.50" y="178.1" width="5.78" height="2.4" fill="#9bd93c"/>
<rect x="237.50" y="180.5" width="5.78" height="4.8" fill="#a5db36"/>
<rect x="237.50" y="185.3" width="5.78" height="7.2" fill="#bddf26"/>
<rect x="237.50" y="192.5" width="5.78" height="2.4" fill="#b2dd2d"/>
<rect x="237.50" y="194.9" width="5.78" height="12.1" fill="#c8e020"/>
<rect x="237.50" y="206.9" width="5.78" height="7.2" fill="#bddf26"/>
<rect x="237.50" y="214.1" width="5.78" height="4.8" fill="#d2e21b"/>
<rect x="237.50" y="218.9" width="5.78" height="2.4" fill="#c8e020"/>
<rect x="237.50" y="223.7" width="5.78" height="4.8" fill="#c8e020"/>
<rect x="237.50" y="228.5" width="5.78" height="2.4" fill="#d2e21b"/>
<rect x="237.50" y="230.9" width="5.78" height="2.4" fill="#c8e020"/>
<rect x="237.50" y="233.3" width="5.78" height="4.8" fill="#bddf26"/>
<rect x="243.24" y="161.3" width="5.78" height="7.2" fill="#eae51a"/>
<rect x="243.24" y="168.5" width="5.78" height="2.4" fill="#d2e21b"/>
<rect x="243.24" y="170.9" width="5.78" height="2.4" fill="#70cf57"/>
<rect x="243.24" y="173.3" width="5.78" height="4.8" fill="#228c8d"/>
<rect x="243.24" y="178.1" width="5.78" height="2.4" fill="#44bf70"/>
<rect x="243.24" y="180.5" width="5.78" height="2.4" fill="#7ad151"/>
<rect x="243.24" y="182.9" width="5.78" height="4.8" fill="#9bd93c"/>
<rect x="243.24" y="187.7" width="5.78" height="2.4" fill="#a5db36"/>
<rect x="243.24" y="190.1" width="5.78" height="4.8" fill="#b2dd2d"/>
<rect x="243.24" y="194.9" width="5.78" height="4.8" fill="#bddf26"/>
<rect x="243.24" y="199.7" width="5.78" height="2.4" fill="#c8e020"/>
<rect x="243.24" y="202.1" width="5.78" height="2.4" fill="#bddf26"/>
<rect x="243.24" y="204.5" width="5.78" height="2.4" fill="#c8e020"/>
<rect x="243.24" y="206.9" width="5.78" height="2.4" fill="#b2dd2d"/>
<rect x="243.24" y="209.3" width="5.78" height="2.4" fill="#bddf26"/>
<rect x="243.24" y="211.7" width="5.78" height="2.4" fill="#c8e020"/>
<rect x="243.24" y="214.1" width="5.78" height="2.4" fill="#d2e21b"/>
<rect x="243.24" y="216.5" width="5.78" height="2.4" fill="#c8e020"/>
<rect x="243.24" y="218.9" width="5.78" height="4.8" fill="#bddf26"/>
<rect x="243.24" y="223.7" width="5.78" height="4.8" fill="#d2e21b"/>
<rect x="243.24" y="228.5" width="5.78" height="7.2" fill="#c8e020"/>
<rect x="243.24" y="235.7" width="5.78" height="2.4" fill="#d2e21b"/>
<rect x="248.97" y="163.7" width="5.78" height="4.8" fill="#f4e61e"/>
<rect x="248.97" y="168.5" width="5.78" height="2.4" fill="#eae51a"/>
<rect x="248.97" y="170.9" width="5.78" height="2.4" fill="#bddf26"/>
<rect x="248.97" y="173.3" width="5.78" height="2.4" fill="#4cc26c"/>
<rect x="248.97" y="175.7" width="5.78" height="2.4" fill="#228c8d"/>
<rect x="248.97" y="178.1" width="5.78" height="2.4" fill="#21908d"/>
<rect x="248.97" y="180.5" width="5.78" height="2.4" fill="#4cc26c"/>
<rect x="248.97" y="182.9" width="5.78" height="2.4" fill="#7ad151"/>
<rect x="248.97" y="185.3" width="5.78" height="4.8" fill="#9bd93c"/>
<rect x="248.97" y="190.1" width="5.78" height="2.4" fill="#b2dd2d"/>
<rect x="248.97" y="192.5" width="5.78" height="4.8" fill="#bddf26"/>
<rect x="248.97" y="197.3" width="5.78" height="4.8" fill="#b2dd2d"/>
<rect x="248.97" y="202.1" width="5.78" height="2.4" fill="#bddf26"/>
<rect x="248.97" y="204.5" width="5.78" height="2.4" fill="#c8e020"/>
<rect x="248.97" y="206.9" width="5.78" height="4.8" fill="#bddf26"/>
<rect x="248.97" y="211.7" width="5.78" height="4.8" fill="#c8e020"/>
<rect x="248.97" y="216.5" width="5.78" height="2.4" fill="#bddf26"/>
<rect x="248.97" y="218.9" width="5.78" height="2.4" fill="#b2dd2d"/>
<rect x="248.97" y="221.3" width="5.78" height="2.4" fill="#c8e020"/>
<rect x="248.97" y="223.7" width="5.78" height="2.4" fill="#d2e21b"/>
<rect x="248.97" y="226.1" width="5.78" height="4.8" fill="#c8e020"/>
<rect x="248.97" y="230.9" width="5.78" height="2.4" fill="#bddf26"/>
<rect x="248.97" y="233.3" width="5.78" height="2.4" fill="#c8e020"/>
<rect x="248.97" y="235.7" width="5.78" height="2.4" fill="#bddf26"/>
<rect x="254.70" y="163.7" width="5.78" height="2.4" fill="#eae51a"/>
<rect x="254.70" y="166.1" width="5.78" height="2.4" fill="#f4e61e"/>
<rect x="254.70" y="168.5" width="5.78" height="2.4" fill="#eae51a"/>
<rect x="254.70" y="170.9" width="5.78" height="2.4" fill="#b2dd2d"/>
<rect x="254.70" y="173.3" width="5.78" height="2.4" fill="#67cc5c"/>
<rect x="254.70" y="175.7" width="5.78" height="2.4" fill="#1f988b"/>
<rect x="254.70" y="178.1" width="5.78" height="2.4" fill="#20a486"/>
<rect x="254.70" y="180.5" width="5.78" height="2.4" fill="#22a884"/>
<rect x="254.70" y="182.9" width="5.78" height="2.4" fill="#35b779"/>
<rect x="254.70" y="185.3" width="5.78" height="2.4" fill="#70cf57"/>
<rect x="254.70" y="187.7" width="5.78" height="2.4" fill="#86d549"/>
<rect x="254.70" y="190.1" width="5.78" height="2.4" fill="#a5db36"/>
<rect x="254.70" y="192.5" width="5.78" height="2.4" fill="#b2dd2d"/>
<rect x="254.70" y="194.9" width="5.78" height="2.4" fill="#bddf26"/>
<rect x="254.70" y="197.3" width="5.78" height="7.2" fill="#b2dd2d"/>
<rect x="254.70" y="204.5" width="5.78" height="2.4" fill="#c8e020"/>
<rect x="254.70" y="206.9" width="5.78" height="2.4" fill="#bddf26"/>
<rect x="254.70" y="209.3" width="5.78" height="2.4" fill="#c8e020"/>
<rect x="254.70" y="211.7" width="5.78" height="2.4" fill="#b2dd2d"/>
<rect x="254.70" y="214.1" width="5.78" height="7.2" fill="#c8e020"/>
<rect x="254.70" y="221.3" width="5.78" height="2.4" fill="#bddf26"/>
<rect x="254.70" y="223.7" width="5.78" height="4.8" fill="#b2dd2d"/>
<rect x="254.70" y="228.5" width="5.78" height="2.4" fill="#bddf26"/>
<rect x="254.70" y="230.9" width="5.78" height="4.8" fill="#b2dd2d"/>
<rect x="254.70" y="235.7" width="5.78" height="2.4" fill="#c8e020"/>
<rect x="260.44" y="163.7" width="5.78" height="2.4" fill="#f4e61e"/>
<rect x="260.44" y="166.1" width="5.78" height="4.8" fill="#eae51a"/>
<rect x="260.44" y="170.9" width="5.78" height="2.4" fill="#f4e61e"/>
<rect x="260.44" y="173.3" width="5.78" height="2.4" fill="#bddf26"/>
<rect x="260.44" y="175.7" width="5.78" height="2.4" fill="#67cc5c"/>
<rect x="260.44" y="178.1" width="5.78" height="4.8" fill="#20a486"/>
<rect x="260.44" y="182.9" width="5.78" height="2.4" fill="#25ac82"/>
<rect x="260.44" y="185.3" width="5.78" height="2.4" fill="#67cc5c"/>
<rect x="260.44" y="187.7" width="5.78" height="2.4" fill="#7ad151"/>
<rect x="260.44" y="190.1" width="5.78" height="4.8" fill="#9bd93c"/>
<rect x="260.44" y="194.9" width="5.78" height="2.4" fill="#bddf26"/>
<rect x="260.44" y="197.3" width="5.78" height="2.4" fill="#a5db36"/>
<rect x="260.44" y="199.7" width="5.78" height="4.8" fill="#bddf26"/>
<rect x="260.44" y="204.5" width="5.78" height="4.8" fill="#b2dd2d"/>
<rect x="260.44" y="209.3" width="5.78" height="2.4" fill="#bddf26"/>
<rect x="260.44" y="211.7" width="5.78" height="2.4" fill="#c8e020"/>
<rect x="260.44" y="214.1" width="5.78" height="4.8" fill="#bddf26"/>
<rect x="260.44" y="218.9" width="5.78" height="2.4" fill="#b2dd2d"/>
<rect x="260.44" y="221.3" width="5.78" height="4.8" fill="#c8e020"/>
<rect x="260.44" y="226.1" width="5.78" height="2.4" fill="#b2dd2d"/>
<rect x="260.44" y="228.5" width="5.78" height="2.4" fill="#c8e020"/>
<rect x="260.44" y="230.9" width="5.78" height="2.4" fill="#bddf26"/>
<rect x="266.17" y="163.7" width="5.78" height="4.8" fill="#eae51a"/>
<rect x="266.17" y="168.5" width="5.78" height="7.2" fill="#f4e61e"/>
<rect x="266.17" y="175.7" width="5.78" height="2.4" fill="#b2dd2d"/>
<rect x="266.17" y="178.1" width="5.78" height="2.4" fill="#67cc5c"/>
<rect x="266.17" y="180.5" width="5.78" height="2.4" fill="#1e9c89"/>
<rect x="266.17" y="182.9" width="5.78" height="2.4" fill="#21908d"/>
<rect x="266.17" y="185.3" width="5.78" height="2.4" fill="#20a486"/>
<rect x="266.17" y="187.7" width="5.78" height="2.4" fill="#4cc26c"/>
<rect x="266.17" y="190.1" width="5.78" height="2.4" fill="#67cc5c"/>
<rect x="266.17" y="192.5" width="5.78" height="2.4" fill="#90d743"/>
<rect x="266.17" y="194.9" width="5.78" height="4.8" fill="#a5db36"/>
<rect x="266.17" y="199.7" width="5.78" height="2.4" fill="#b2dd2d"/>
<rect x="266.17" y="202.1" width="5.78" height="2.4" fill="#bddf26"/>
<rect x="266.17" y="204.5" width="5.78" height="2.4" fill="#c8e020"/>
<rect x="266.17" y="206.9" width="5.78" height="4.8" fill="#b2dd2d"/>
<rect x="266.17" y="211.7" width="5.78" height="2.4" fill="#bddf26"/>
<rect x="266.17" y="214.1" width="5.78" height="2.4" fill="#b2dd2d"/>
<rect x="266.17" y="216.5" width="5.78" height="4.8" fill="#c8e020"/>
<rect x="266.17" y="221.3" width="5.78" height="2.4" fill="#bddf26"/>
<rect x="266.17" y="223.7" width="5.78" height="4.8" fill="#b2dd2d"/>
<rect x="266.17" y="228.5" width="5.78" height="4.8" fill="#c8e020"/>
<rect x="271.90" y="161.3" width="5.78" height="4.8" fill="#f4e61e"/>
<rect x="271.90" y="166.1" width="5.78" height="2.4" fill="#eae51a"/>
<rect x="271.90" y="168.5" width="5.78" height="2.4" fill="#f4e61e"/>
<rect x="271.90" y="170.9" width="5.78" height="4.8" fill="#eae51a"/>
<rect x="271.90" y="175.7" width="5.78" height="2.4" fill="#dfe318"/>
<rect x="271.90" y="178.1" width="5.78" height="2.4" fill="#b2dd2d"/>
<rect x="271.90" y="180.5" width="5.78" height="2.4" fill="#4cc26c"/>
<rect x="271.90" y="182.9" width="5.78" height="2.4" fill="#22a884"/>
<rect x="271.90" y="185.3" width="5.78" height="4.8" fill="#20a486"/>
<rect x="271.90" y="190.1" width="5.78" height="2.4" fill="#2fb47c"/>
<rect x="271.90" y="192.5" width="5.78" height="2.4" fill="#7ad151"/>
<rect x="271.90" y="194.9" width="5.78" height="4.8" fill="#9bd93c"/>
<rect x="271.90" y="199.7" width="5.78" height="2.4" fill="#b2dd2d"/>
<rect x="271.90" y="202.1" width="5.78" height="4.8" fill="#bddf26"/>
<rect x="271.90" y="206.9" width="5.78" height="2.4" fill="#b2dd2d"/>
<rect x="271.90" y="209.3" width="5.78" height="2.4" fill="#bddf26"/>
<rect x="271.90" y="211.7" width="5.78" height="7.2" fill="#b2dd2d"/>
<rect x="271.90" y="218.9" width="5.78" height="7.2" fill="#c8e020"/>
<rect x="271.90" y="226.1" width="5.78" height="7.2" fill="#bddf26"/>
<rect x="277.64" y="158.9" width="5.78" height="12.1" fill="#f4e61e"/>
<rect x="277.64" y="170.9" width="5.78" height="2.4" fill="#eae51a"/>
<rect x="277.64" y="173.3" width="5.78" height="4.8" fill="#f4e61e"/>
<rect x="277.64" y="178.1" width="5.78" height="2.4" fill="#d2e21b"/>
<rect x="277.64" y="180.5" width="5.78" height="2.4" fill="#b2dd2d"/>
<rect x="277.64" y="182.9" width="5.78" height="2.4" fill="#44bf70"/>
<rect x="277.64" y="185.3" width="5.78" height="2.4" fill="#20a486"/>
<rect x="277.64" y="187.7" width="5.78" height="2.4" fill="#1f988b"/>
<rect x="277.64" y="190.1" width="5.78" height="2.4" fill="#25ac82"/>
<rect x="277.64" y="192.5" width="5.78" height="2.4" fill="#5cc863"/>
<rect x="277.64" y="194.9" width="5.78" height="2.4" fill="#86d549"/>
<rect x="277.64" y="197.3" width="5.78" height="2.4" fill="#a5db36"/>
<rect x="277.64" y="199.7" width="5.78" height="2.4" fill="#9bd93c"/>
<rect x="277.64" y="202.1" width="5.78" height="2.4" fill="#b2dd2d"/>
<rect x="277.64" y="204.5" width="5.78" height="4.8" fill="#bddf26"/>
<rect x="277.64" y="209.3" width="5.78" height="2.4" fill="#a5db36"/>
<rect x="277.64" y="211.7" width="5.78" height="4.8" fill="#bddf26"/>
<rect x="277.64" y="216.5" width="5.78" height="2.4" fill="#b2dd2d"/>
<rect x="277.64" y="218.9" width="5.78" height="2.4" fill="#bddf26"/>
<rect x="277.64" y="221.3" width="5.78" height="2.4" fill="#b2dd2d"/>
<rect x="277.64" y="223.7" width="5.78" height="2.4" fill="#c8e020"/>
<rect x="277.64" y="226.1" width="5.78" height="2.4" fill="#bddf26"/>
<rect x="277.64" y="228.5" width="5.78" height="4.8" fill="#b2dd2d"/>
<rect x="283.37" y="154.1" width="5.78" height="2.4" fill="#eae51a"/>
<rect x="283.37" y="156.5" width="5.78" height="9.7" fill="#f4e61e"/>
<rect x="283.37" y="166.1" width="5.78" height="2.4" fill="#eae51a"/>
<rect x="283.37" y="168.5" width="5.78" height="2.4" fill="#f4e61e"/>
<rect x="283.37" y="170.9" width="5.78" height="2.4" fill="#eae51a"/>
<rect x="283.37" y="173.3" width="5.78" height="2.4" fill="#f4e61e"/>
<rect x="283.37" y="175.7" width="5.78" height="4.8" fill="#eae51a"/>
<rect x="283.37" y="180.5" width="5.78" height="2.4" fill="#dfe318"/>
<rect x="283.37" y="182.9" width="5.78" height="2.4" fill="#86d549"/>
<rect x="283.37" y="185.3" width="5.78" height="2.4" fill="#1f988b"/>
<rect x="283.37" y="187.7" width="5.78" height="2.4" fill="#25ac82"/>
<rect x="283.37" y="190.1" width="5.78" height="2.4" fill="#1e9c89"/>
<rect x="283.37" y="192.5" width="5.78" height="2.4" fill="#1fa188"/>
<rect x="283.37" y="194.9" width="5.78" height="2.4" fill="#5cc863"/>
<rect x="283.37" y="197.3" width="5.78" height="2.4" fill="#90d743"/>
<rect x="283.37" y="199.7" width="5.78" height="2.4" fill="#a5db36"/>
<rect x="283.37" y="202.1" width="5.78" height="9.7" fill="#b2dd2d"/>
<rect x="283.37" y="211.7" width="5.78" height="2.4" fill="#bddf26"/>
<rect x="283.37" y="214.1" width="5.78" height="2.4" fill="#c8e020"/>
<rect x="283.37" y="216.5" width="5.78" height="2.4" fill="#bddf26"/>
<rect x="283.37" y="218.9" width="5.78" height="2.4" fill="#b2dd2d"/>
<rect x="283.37" y="221.3" width="5.78" height="2.4" fill="#c8e020"/>
<rect x="283.37" y="223.7" width="5.78" height="2.4" fill="#bddf26"/>
<rect x="283.37" y="226.1" width="5.78" height="2.4" fill="#c8e020"/>
<rect x="283.37" y="228.5" width="5.78" height="2.4" fill="#b2dd2d"/>
<rect x="283.37" y="230.9" width="5.78" height="2.4" fill="#bddf26"/>
<rect x="289.10" y="151.7" width="5.78" height="26.4" fill="#f4e61e"/>
<rect x="289.10" y="178.1" width="5.78" height="4.8" fill="#eae51a"/>
<rect x="289.10" y="182.9" width="5.78" height="2.4" fill="#c8e020"/>
<rect x="289.10" y="185.3" width="5.78" height="2.4" fill="#70cf57"/>
<rect x="289.10" y="187.7" width="5.78" height="2.4" fill="#22a884"/>
<rect x="289.10" y="190.1" width="5.78" height="2.4" fill="#1f948c"/>
<rect x="289.10" y="192.5" width="5.78" height="2.4" fill="#21908d"/>
<rect x="289.10" y="194.9" width="5.78" height="2.4" fill="#35b779"/>
<rect x="289.10" y="197.3" width="5.78" height="2.4" fill="#70cf57"/>
<rect x="289.10" y="199.7" width="5.78" height="2.4" fill="#86d549"/>
<rect x="289.10" y="202.1" width="5.78" height="2.4" fill="#a5db36"/>
<rect x="289.10" y="204.5" width="5.78" height="2.4" fill="#bddf26"/>
<rect x="289.10" y="206.9" width="5.78" height="2.4" fill="#a5db36"/>
<rect x="289.10" y="209.3" width="5.78" height="4.8" fill="#b2dd2d"/>
<rect x="289.10" y="214.1" width="5.78" height="2.4" fill="#bddf26"/>
<rect x="289.10" y="216.5" width="5.78" height="2.4" fill="#b2dd2d"/>
<rect x="289.10" y="218.9" width="5.78" height="2.4" fill="#bddf26"/>
<rect x="289.10" y="221.3" width="5.78" height="4.8" fill="#c8e020"/>
<rect x="289.10" y="226.1" width="5.78" height="4.8" fill="#bddf26"/>
<rect x="289.10" y="230.9" width="5.78" height="2.4" fill="#b2dd2d"/>
<rect x="294.84" y="146.9" width="5.78" height="7.2" fill="#f4e61e"/>
<rect x="294.84" y="156.5" width="5.78" height="7.2" fill="#f4e61e"/>
<rect x="294.84" y="163.7" width="5.78" height="2.4" fill="#eae51a"/>
<rect x="294.84" y="166.1" width="5.78" height="4.8" fill="#f4e61e"/>
<rect x="294.84" y="170.9" width="5.78" height="4.8" fill="#eae51a"/>
<rect x="294.84" y="175.7" width="5.78" height="4.8" fill="#f4e61e"/>
<rect x="294.84" y="180.5" width="5.78" height="2.4" fill="#eae51a"/>
<rect x="294.84" y="182.9" width="5.78" height="2.4" fill="#d2e21b"/>
<rect x="294.84" y="185.3" width="5.78" height="2.4" fill="#bddf26"/>
<rect x="294.84" y="187.7" width="5.78" height="2.4" fill="#5cc863"/>
<rect x="294.84" y="190.1" width="5.78" height="2.4" fill="#1f948c"/>
<rect x="294.84" y="192.5" width="5.78" height="2.4" fill="#20a486"/>
<rect x="294.84" y="194.9" width="5.78" height="2.4" fill="#1f948c"/>
<rect x="294.84" y="197.3" width="5.78" height="2.4" fill="#3bbb75"/>
<rect x="294.84" y="199.7" width="5.78" height="2.4" fill="#67cc5c"/>
<rect x="294.84" y="202.1" width="5.78" height="4.8" fill="#9bd93c"/>
<rect x="294.84" y="206.9" width="5.78" height="4.8" fill="#b2dd2d"/>
<rect x="294.84" y="211.7" width="5.78" height="2.4" fill="#a5db36"/>
<rect x="294.84" y="214.1" width="5.78" height="2.4" fill="#b2dd2d"/>
<rect x="294.84" y="216.5" width="5.78" height="12.1" fill="#bddf26"/>
<rect x="294.84" y="228.5" width="5.78" height="4.8" fill="#c8e020"/>
<rect x="300.57" y="146.9" width="5.78" height="2.4" fill="#f4e61e"/>
<rect x="300.57" y="149.3" width="5.78" height="2.4" fill="#eae51a"/>
<rect x="300.57" y="151.7" width="5.78" height="9.7" fill="#f4e61e"/>
<rect x="300.57" y="161.3" width="5.78" height="2.4" fill="#eae51a"/>
<rect x="300.57" y="163.7" width="5.78" height="19.2" fill="#f4e61e"/>
<rect x="300.57" y="182.9" width="5.78" height="2.4" fill="#eae51a"/>
<rect x="300.57" y="185.3" width="5.78" height="2.4" fill="#dfe318"/>
<rect x="300.57" y="187.7" width="5.78" height="2.4" fill="#bddf26"/>
<rect x="300.57" y="190.1" width="5.78" height="2.4" fill="#70cf57"/>
<rect x="300.57" y="192.5" width="5.78" height="4.8" fill="#1fa188"/>
<rect x="300.57" y="197.3" width="5.78" height="2.4" fill="#25ac82"/>
<rect x="300.57" y="199.7" width="5.78" height="2.4" fill="#2fb47c"/>
<rect x="300.57" y="202.1" width="5.78" height="2.4" fill="#70cf57"/>
<rect x="300.57" y="204.5" width="5.78" height="2.4" fill="#9bd93c"/>
<rect x="300.57" y="206.9" width="5.78" height="4.8" fill="#b2dd2d"/>
<rect x="300.57" y="211.7" width="5.78" height="7.2" fill="#bddf26"/>
<rect x="300.57" y="218.9" width="5.78" height="2.4" fill="#c8e020"/>
<rect x="300.57" y="221.3" width="5.78" height="4.8" fill="#bddf26"/>
<rect x="300.57" y="226.1" width="5.78" height="2.4" fill="#c8e020"/>
<rect x="300.57" y="228.5" width="5.78" height="2.4" fill="#bddf26"/>
<rect x="300.57" y="230.9" width="5.78" height="2.4" fill="#c8e020"/>
<rect x="306.30" y="149.3" width="5.78" height="14.4" fill="#f4e61e"/>
<rect x="306.30" y="163.7" width="5.78" height="2.4" fill="#eae51a"/>
<rect x="306.30" y="166.1" width="5.78" height="2.4" fill="#f4e61e"/>
<rect x="306.30" y="168.5" width="5.78" height="4.8" fill="#eae51a"/>
<rect x="306.30" y="173.3" width="5.78" height="2.4" fill="#f4e61e"/>
<rect x="306.30" y="175.7" width="5.78" height="2.4" fill="#eae51a"/>
<rect x="306.30" y="178.1" width="5.78" height="2.4" fill="#f4e61e"/>
<rect x="306.30" y="180.5" width="5.78" height="2.4" fill="#eae51a"/>
<rect x="306.30" y="182.9" width="5.78" height="2.4" fill="#f4e61e"/>
<rect x="306.30" y="185.3" width="5.78" height="2.4" fill="#dfe318"/>
<rect x="306.30" y="187.7" width="5.78" height="2.4" fill="#d2e21b"/>
<rect x="306.30" y="190.1" width="5.78" height="2.4" fill="#b2dd2d"/>
<rect x="306.30" y="192.5" width="5.78" height="2.4" fill="#35b779"/>
<rect x="306.30" y="194.9" width="5.78" height="2.4" fill="#1f948c"/>
<rect x="306.30" y="197.3" width="5.78" height="2.4" fill="#25ac82"/>
<rect x="306.30" y="199.7" width="5.78" height="2.4" fill="#22a884"/>
<rect x="306.30" y="202.1" width="5.78" height="2.4" fill="#3bbb75"/>
<rect x="306.30" y="204.5" width="5.78" height="2.4" fill="#86d549"/>
<rect x="306.30" y="206.9" width="5.78" height="2.4" fill="#90d743"/>
<rect x="306.30" y="209.3" width="5.78" height="2.4" fill="#b2dd2d"/>
<rect x="306.30" y="211.7" width="5.78" height="2.4" fill="#a5db36"/>
<rect x="306.30" y="214.1" width="5.78" height="2.4" fill="#bddf26"/>
<rect x="306.30" y="216.5" width="5.78" height="4.8" fill="#b2dd2d"/>
<rect x="306.30" y="221.3" width="5.78" height="9.7" fill="#bddf26"/>
<rect x="306.30" y="230.9" width="5.78" height="2.4" fill="#c8e020"/>
<rect x="312.04" y="151.7" width="5.78" height="4.8" fill="#f4e61e"/>
<rect x="312.04" y="156.5" width="5.78" height="2.4" fill="#eae51a"/>
<rect x="312.04" y="158.9" width="5.78" height="2.4" fill="#f4e61e"/>
<rect x="312.04" y="161.3" width="5.78" height="2.4" fill="#eae51a"/>
<rect x="312.04" y="163.7" width="5.78" height="14.4" fill="#f4e61e"/>
<rect x="312.04" y="178.1" width="5.78" height="2.4" fill="#eae51a"/>
<rect x="312.04" y="182.9" width="5.78" height="2.4" fill="#f4e61e"/>
<rect x="312.04" y="185.3" width="5.78" height="2.4" fill="#eae51a"/>
<rect x="312.04" y="187.7" width="5.78" height="2.4" fill="#f4e61e"/>
<rect x="312.04" y="190.1" width="5.78" height="2.4" fill="#d2e21b"/>
<rect x="312.04" y="192.5" width="5.78" height="2.4" fill="#b2dd2d"/>
<rect x="312.04" y="194.9" width="5.78" height="2.4" fill="#54c568"/>
<rect x="312.04" y="197.3" width="5.78" height="2.4" fill="#1e9c89"/>
<rect x="312.04" y="199.7" width="5.78" height="2.4" fill="#22a884"/>
<rect x="312.04" y="202.1" width="5.78" height="2.4" fill="#1f948c"/>
<rect x="312.04" y="204.5" width="5.78" height="2.4" fill="#3bbb75"/>
<rect x="312.04" y="206.9" width="5.78" height="2.4" fill="#7ad151"/>
<rect x="312.04" y="209.3" width="5.78" height="2.4" fill="#90d743"/>
<rect x="312.04" y="211.7" width="5.78" height="2.4" fill="#a5db36"/>
<rect x="312.04" y="214.1" width="5.78" height="2.4" fill="#b2dd2d"/>
<rect x="312.04" y="216.5" width="5.78" height="2.4" fill="#a5db36"/>
<rect x="312.04" y="218.9" width="5.78" height="2.4" fill="#bddf26"/>
<rect x="312.04" y="221.3" width="5.78" height="2.4" fill="#b2dd2d"/>
<rect x="312.04" y="223.7" width="5.78" height="2.4" fill="#bddf26"/>
<rect x="312.04" y="226.1" width="5.78" height="4.8" fill="#b2dd2d"/>
<rect x="312.04" y="230.9" width="5.78" height="2.4" fill="#bddf26"/>
<rect x="317.77" y="154.1" width="5.78" height="19.2" fill="#f4e61e"/>
<rect x="317.77" y="173.3" width="5.78" height="2.4" fill="#eae51a"/>
<rect x="317.77" y="175.7" width="5.78" height="12.1" fill="#f4e61e"/>
<rect x="317.77" y="190.1" width="5.78" height="2.4" fill="#f4e61e"/>
<rect x="317.77" y="192.5" width="5.78" height="2.4" fill="#eae51a"/>
<rect x="317.77" y="194.9" width="5.78" height="2.4" fill="#c8e020"/>
<rect x="317.77" y="197.3" width="5.78" height="2.4" fill="#5cc863"/>
<rect x="317.77" y="199.7" width="5.78" height="2.4" fill="#20a486"/>
<rect x="317.77" y="202.1" width="5.78" height="2.4" fill="#22a884"/>
<rect x="317.77" y="204.5" width="5.78" height="2.4" fill="#1fa188"/>
<rect x="317.77" y="206.9" width="5.78" height="2.4" fill="#3bbb75"/>
<rect x="317.77" y="209.3" width="5.78" height="2.4" fill="#70cf57"/>
<rect x="317.77" y="211.7" width="5.78" height="2.4" fill="#86d549"/>
<rect x="317.77" y="214.1" width="5.78" height="2.4" fill="#a5db36"/>
<rect x="317.77" y="216.5" width="5.78" height="2.4" fill="#b2dd2d"/>
<rect x="317.77" y="218.9" width="5.78" height="2.4" fill="#bddf26"/>
<rect x="317.77" y="221.3" width="5.78" height="7.2" fill="#b2dd2d"/>
<rect x="317.77" y="228.5" width="5.78" height="4.8" fill="#bddf26"/>
<rect x="323.50" y="156.5" width="5.78" height="9.7" fill="#f4e61e"/>
<rect x="323.50" y="168.5" width="5.78" height="2.4" fill="#f4e61e"/>
<rect x="323.50" y="170.9" width="5.78" height="2.4" fill="#eae51a"/>
<rect x="323.50" y="175.7" width="5.78" height="2.4" fill="#f4e61e"/>
<rect x="323.50" y="178.1" width="5.78" height="2.4" fill="#eae51a"/>
<rect x="323.50" y="180.5" width="5.78" height="12.1" fill="#f4e61e"/>
<rect x="323.50" y="192.5" width="5.78" height="2.4" fill="#eae51a"/>
<rect x="323.50" y="194.9" width="5.78" height="2.4" fill="#f4e61e"/>
<rect x="323.50" y="197.3" width="5.78" height="2.4" fill="#c8e020"/>
<rect x="323.50" y="199.7" width="5.78" height="2.4" fill="#70cf57"/>
<rect x="323.50" y="202.1" width="5.78" height="2.4" fill="#2ab07f"/>
<rect x="323.50" y="204.5" width="5.78" height="2.4" fill="#25ac82"/>
<rect x="323.50" y="206.9" width="5.78" height="2.4" fill="#1fa188"/>
<rect x="323.50" y="209.3" width="5.78" height="2.4" fill="#25ac82"/>
<rect x="323.50" y="211.7" width="5.78" height="2.4" fill="#5cc863"/>
<rect x="323.50" y="214.1" width="5.78" height="2.4" fill="#86d549"/>
<rect x="323.50" y="216.5" width="5.78" height="2.4" fill="#a5db36"/>
<rect x="323.50" y="218.9" width="5.78" height="4.8" fill="#b2dd2d"/>
<rect x="323.50" y="223.7" width="5.78" height="2.4" fill="#bddf26"/>
<rect x="323.50" y="226.1" width="5.78" height="7.2" fill="#b2dd2d"/>
<rect x="329.24" y="158.9" width="5.78" height="2.4" fill="#f4e61e"/>
<rect x="329.24" y="161.3" width="5.78" height="2.4" fill="#eae51a"/>
<rect x="329.24" y="163.7" width="5.78" height="12.1" fill="#f4e61e"/>
<rect x="329.24" y="178.1" width="5.78" height="12.1" fill="#f4e61e"/>
<rect x="329.24" y="190.1" width="5.78" height="2.4" fill="#eae51a"/>
<rect x="329.24" y="192.5" width="5.78" height="7.2" fill="#f4e61e"/>
<rect x="329.24" y="199.7" width="5.78" height="2.4" fill="#eae51a"/>
<rect x="329.24" y="202.1" width="5.78" height="2.4" fill="#bddf26"/>
<rect x="329.24" y="204.5" width="5.78" height="2.4" fill="#67cc5c"/>
<rect x="329.24" y="206.9" width="5.78" height="2.4" fill="#25ac82"/>
<rect x="329.24" y="209.3" width="5.78" height="2.4" fill="#1e9c89"/>
<rect x="329.24" y="211.7" width="5.78" height="2.4" fill="#1f948c"/>
<rect x="329.24" y="214.1" width="5.78" height="2.4" fill="#44bf70"/>
<rect x="329.24" y="216.5" width="5.78" height="2.4" fill="#5cc863"/>
<rect x="329.24" y="218.9" width="5.78" height="2.4" fill="#9bd93c"/>
<rect x="329.24" y="221.3" width="5.78" height="2.4" fill="#a5db36"/>
<rect x="329.24" y="223.7" width="5.78" height="2.4" fill="#b2dd2d"/>
<rect x="329.24" y="226.1" width="5.78" height="4.8" fill="#a5db36"/>
<rect x="329.24" y="230.9" width="5.78" height="2.4" fill="#b2dd2d"/>
<rect x="334.97" y="161.3" width="5.78" height="7.2" fill="#eae51a"/>
<rect x="334.97" y="168.5" width="5.78" height="2.4" fill="#f4e61e"/>
<rect x="334.97" y="170.9" width="5.78" height="2.4" fill="#eae51a"/>
<rect x="334.97" y="173.3" width="5.78" height="7.2" fill="#f4e61e"/>
<rect x="334.97" y="180.5" width="5.78" height="2.4" fill="#eae51a"/>
<rect x="334.97" y="182.9" width="5.78" height="2.4" fill="#f4e61e"/>
<rect x="334.97" y="185.3" width="5.78" height="2.4" fill="#eae51a"/>
<rect x="334.97" y="187.7" width="5.78" height="2.4" fill="#f4e61e"/>
<rect x="334.97" y="190.1" width="5.78" height="2.4" fill="#eae51a"/>
<rect x="334.97" y="194.9" width="5.78" height="9.7" fill="#f4e61e"/>
<rect x="334.97" y="204.5" width="5.78" height="2.4" fill="#dfe318"/>
<rect x="334.97" y="206.9" width="5.78" height="2.4" fill="#c8e020"/>
<rect x="334.97" y="209.3" width="5.78" height="2.4" fill="#54c568"/>
<rect x="334.97" y="211.7" width="5.78" height="9.7" fill="#2ab07f"/>
<rect x="334.97" y="221.3" width="5.78" height="2.4" fill="#70cf57"/>
<rect x="334.97" y="223.7" width="5.78" height="2.4" fill="#9bd93c"/>
<rect x="334.97" y="226.1" width="5.78" height="2.4" fill="#b2dd2d"/>
<rect x="334.97" y="228.5" width="5.78" height="2.4" fill="#bddf26"/>
<rect x="334.97" y="230.9" width="5.78" height="7.2" fill="#b2dd2d"/>
<rect x="340.70" y="173.3" width="5.78" height="4.8" fill="#eae51a"/>
<rect x="340.70" y="178.1" width="5.78" height="4.8" fill="#f4e61e"/>
<rect x="340.70" y="182.9" width="5.78" height="7.2" fill="#eae51a"/>
<rect x="340.70" y="190.1" width="5.78" height="2.4" fill="#f4e61e"/>
<rect x="340.70" y="194.9" width="5.78" height="4.8" fill="#eae51a"/>
<rect x="340.70" y="199.7" width="5.78" height="9.7" fill="#f4e61e"/>
<rect x="340.70" y="209.3" width="5.78" height="2.4" fill="#c8e020"/>
<rect x="340.70" y="211.7" width="5.78" height="2.4" fill="#86d549"/>
<rect x="340.70" y="214.1" width="5.78" height="2.4" fill="#20a486"/>
<rect x="340.70" y="216.5" width="5.78" height="2.4" fill="#1f948c"/>
<rect x="340.70" y="218.9" width="5.78" height="2.4" fill="#1f988b"/>
<rect x="340.70" y="221.3" width="5.78" height="2.4" fill="#22a884"/>
<rect x="340.70" y="223.7" width="5.78" height="2.4" fill="#5cc863"/>
<rect x="340.70" y="226.1" width="5.78" height="2.4" fill="#90d743"/>
<rect x="340.70" y="228.5" width="5.78" height="2.4" fill="#9bd93c"/>
<rect x="340.70" y="230.9" width="5.78" height="7.2" fill="#b2dd2d"/>
<rect x="346.44" y="173.3" width="5.78" height="4.8" fill="#eae51a"/>
<rect x="346.44" y="180.5" width="5.78" height="4.8" fill="#f4e61e"/>
<rect x="346.44" y="187.7" width="5.78" height="2.4" fill="#eae51a"/>
<rect x="346.44" y="190.1" width="5.78" height="2.4" fill="#f4e61e"/>
<rect x="346.44" y="192.5" width="5.78" height="2.4" fill="#eae51a"/>
<rect x="346.44" y="194.9" width="5.78" height="7.2" fill="#f4e61e"/>
<rect x="346.44" y="204.5" width="5.78" height="2.4" fill="#eae51a"/>
<rect x="346.44" y="206.9" width="5.78" height="2.4" fill="#f4e61e"/>
<rect x="346.44" y="209.3" width="5.78" height="2.4" fill="#eae51a"/>
<rect x="346.44" y="211.7" width="5.78" height="2.4" fill="#dfe318"/>
<rect x="346.44" y="214.1" width="5.78" height="2.4" fill="#bddf26"/>
<rect x="346.44" y="216.5" width="5.78" height="2.4" fill="#2fb47c"/>
<rect x="346.44" y="218.9" width="5.78" height="2.4" fill="#22a884"/>
<rect x="346.44" y="221.3" width="5.78" height="2.4" fill="#228c8d"/>
<rect x="346.44" y="223.7" width="5.78" height="2.4" fill="#22a884"/>
<rect x="346.44" y="226.1" width="5.78" height="2.4" fill="#67cc5c"/>
<rect x="346.44" y="228.5" width="5.78" height="2.4" fill="#7ad151"/>
<rect x="346.44" y="230.9" width="5.78" height="2.4" fill="#90d743"/>
<rect x="346.44" y="233.3" width="5.78" height="2.4" fill="#9bd93c"/>
<rect x="346.44" y="235.7" width="5.78" height="2.4" fill="#bddf26"/>
<rect x="352.17" y="173.3" width="5.78" height="4.8" fill="#eae51a"/>
<rect x="352.17" y="185.3" width="5.78" height="4.8" fill="#eae51a"/>
<rect x="352.17" y="192.5" width="5.78" height="4.8" fill="#f4e61e"/>
<rect x="352.17" y="197.3" width="5.78" height="2.4" fill="#eae51a"/>
<rect x="352.17" y="199.7" width="5.78" height="7.2" fill="#f4e61e"/>
<rect x="352.17" y="206.9" width="5.78" height="2.4" fill="#eae51a"/>
<rect x="352.17" y="209.3" width="5.78" height="2.4" fill="#f4e61e"/>
<rect x="352.17" y="211.7" width="5.78" height="2.4" fill="#dfe318"/>
<rect x="352.17" y="214.1" width="5.78" height="2.4" fill="#eae51a"/>
<rect x="352.17" y="216.5" width="5.78" height="2.4" fill="#bddf26"/>
<rect x="352.17" y="218.9" width="5.78" height="2.4" fill="#3bbb75"/>
<rect x="352.17" y="221.3" width="5.78" height="2.4" fill="#21908d"/>
<rect x="352.17" y="223.7" width="5.78" height="2.4" fill="#1f988b"/>
<rect x="352.17" y="226.1" width="5.78" height="2.4" fill="#228c8d"/>
<rect x="352.17" y="228.5" width="5.78" height="2.4" fill="#5cc863"/>
<rect x="352.17" y="230.9" width="5.78" height="2.4" fill="#70cf57"/>
<rect x="352.17" y="233.3" width="5.78" height="2.4" fill="#90d743"/>
<rect x="352.17" y="235.7" width="5.78" height="2.4" fill="#9bd93c"/>
<rect x="357.90" y="173.3" width="5.78" height="4.8" fill="#eae51a"/>
<rect x="357.90" y="185.3" width="5.78" height="2.4" fill="#eae51a"/>
<rect x="357.90" y="197.3" width="5.78" height="9.7" fill="#f4e61e"/>
<rect x="357.90" y="206.9" width="5.78" height="2.4" fill="#eae51a"/>
<rect x="357.90" y="209.3" width="5.78" height="2.4" fill="#f4e61e"/>
<rect x="357.90" y="211.7" width="5.78" height="2.4" fill="#eae51a"/>
<rect x="357.90" y="214.1" width="5.78" height="2.4" fill="#f4e61e"/>
<rect x="357.90" y="216.5" width="5.78" height="2.4" fill="#eae51a"/>
<rect x="357.90" y="218.9" width="5.78" height="2.4" fill="#bddf26"/>
<rect x="357.90" y="221.3" width="5.78" height="2.4" fill="#35b779"/>
<rect x="357.90" y="223.7" width="5.78" height="4.8" fill="#2d708e"/>
<rect x="357.90" y="228.5" width="5.78" height="2.4" fill="#32648e"/>
<rect x="357.90" y="230.9" width="5.78" height="2.4" fill="#3bbb75"/>
<rect x="357.90" y="233.3" width="5.78" height="2.4" fill="#70cf57"/>
<rect x="357.90" y="235.7" width="5.78" height="2.4" fill="#90d743"/>
<rect x="363.64" y="173.3" width="5.78" height="4.8" fill="#eae51a"/>
<rect x="363.64" y="190.1" width="5.78" height="2.4" fill="#eae51a"/>
<rect x="363.64" y="199.7" width="5.78" height="14.4" fill="#f4e61e"/>
<rect x="363.64" y="214.1" width="5.78" height="4.8" fill="#eae51a"/>
<rect x="363.64" y="218.9" width="5.78" height="2.4" fill="#dfe318"/>
<rect x="363.64" y="221.3" width="5.78" height="2.4" fill="#c8e020"/>
<rect x="363.64" y="223.7" width="5.78" height="2.4" fill="#3bbb75"/>
<rect x="363.64" y="226.1" width="5.78" height="2.4" fill="#433e85"/>
<rect x="363.64" y="228.5" width="5.78" height="2.4" fill="#443983"/>
<rect x="363.64" y="230.9" width="5.78" height="2.4" fill="#433e85"/>
<rect x="369.37" y="173.3" width="5.78" height="4.8" fill="#eae51a"/>
<rect x="369.37" y="190.1" width="5.78" height="2.4" fill="#eae51a"/>
<rect x="369.37" y="194.9" width="5.78" height="2.4" fill="#eae51a"/>
<rect x="369.37" y="204.5" width="5.78" height="4.8" fill="#eae51a"/>
<rect x="369.37" y="209.3" width="5.78" height="2.4" fill="#f4e61e"/>
<rect x="369.37" y="211.7" width="5.78" height="2.4" fill="#eae51a"/>
<rect x="369.37" y="214.1" width="5.78" height="7.2" fill="#dfe318"/>
<rect x="369.37" y="221.3" width="5.78" height="2.4" fill="#bddf26"/>
<rect x="369.37" y="223.7" width="5.78" height="2.4" fill="#86d549"/>
<rect x="369.37" y="226.1" width="5.78" height="2.4" fill="#35b779"/>
<rect x="369.37" y="228.5" width="5.78" height="4.8" fill="#440154"/>
<rect x="375.10" y="173.3" width="5.78" height="4.8" fill="#eae51a"/>
<rect x="375.10" y="199.7" width="5.78" height="4.8" fill="#eae51a"/>
<rect x="375.10" y="204.5" width="5.78" height="7.2" fill="#f4e61e"/>
<rect x="375.10" y="211.7" width="5.78" height="2.4" fill="#eae51a"/>
<rect x="375.10" y="214.1" width="5.78" height="2.4" fill="#dfe318"/>
<rect x="375.10" y="216.5" width="5.78" height="2.4" fill="#eae51a"/>
<rect x="375.10" y="218.9" width="5.78" height="2.4" fill="#d2e21b"/>
<rect x="375.10" y="221.3" width="5.78" height="2.4" fill="#c8e020"/>
<rect x="375.10" y="223.7" width="5.78" height="2.4" fill="#7ad151"/>
<rect x="375.10" y="226.1" width="5.78" height="2.4" fill="#35b779"/>
<rect x="375.10" y="228.5" width="5.78" height="4.8" fill="#440154"/>
<rect x="380.84" y="173.3" width="5.78" height="4.8" fill="#eae51a"/>
<rect x="380.84" y="194.9" width="5.78" height="2.4" fill="#eae51a"/>
<rect x="380.84" y="202.1" width="5.78" height="2.4" fill="#eae51a"/>
<rect x="380.84" y="204.5" width="5.78" height="2.4" fill="#f4e61e"/>
<rect x="380.84" y="206.9" width="5.78" height="2.4" fill="#dfe318"/>
<rect x="380.84" y="209.3" width="5.78" height="2.4" fill="#f4e61e"/>
<rect x="380.84" y="211.7" width="5.78" height="2.4" fill="#eae51a"/>
<rect x="380.84" y="214.1" width="5.78" height="4.8" fill="#d2e21b"/>
<rect x="380.84" y="218.9" width="5.78" height="2.4" fill="#c8e020"/>
<rect x="380.84" y="221.3" width="5.78" height="2.4" fill="#bddf26"/>
<rect x="380.84" y="223.7" width="5.78" height="2.4" fill="#90d743"/>
<rect x="380.84" y="226.1" width="5.78" height="2.4" fill="#35b779"/>
<rect x="380.84" y="228.5" width="5.78" height="4.8" fill="#440154"/>
<rect x="386.57" y="173.3" width="5.78" height="4.8" fill="#eae51a"/>
<rect x="386.57" y="197.3" width="5.78" height="2.4" fill="#eae51a"/>
<rect x="386.57" y="214.1" width="5.78" height="2.4" fill="#dfe318"/>
<rect x="386.57" y="216.5" width="5.78" height="2.4" fill="#eae51a"/>
<rect x="386.57" y="218.9" width="5.78" height="2.4" fill="#d2e21b"/>
<rect x="386.57" y="221.3" width="5.78" height="2.4" fill="#bddf26"/>
<rect x="386.57" y="223.7" width="5.78" height="2.4" fill="#9bd93c"/>
<rect x="386.57" y="226.1" width="5.78" height="2.4" fill="#35b779"/>
<rect x="386.57" y="228.5" width="5.78" height="4.8" fill="#440154"/>
<rect x="392.30" y="168.5" width="5.78" height="4.8" fill="#eae51a"/>
<rect x="392.30" y="202.1" width="5.78" height="2.4" fill="#eae51a"/>
<rect x="392.30" y="206.9" width="5.78" height="2.4" fill="#eae51a"/>
<rect x="392.30" y="214.1" width="5.78" height="2.4" fill="#eae51a"/>
<rect x="392.30" y="216.5" width="5.78" height="2.4" fill="#d2e21b"/>
<rect x="392.30" y="218.9" width="5.78" height="2.4" fill="#c8e020"/>
<rect x="392.30" y="221.3" width="5.78" height="2.4" fill="#bddf26"/>
<rect x="392.30" y="223.7" width="5.78" height="2.4" fill="#86d549"/>
<rect x="392.30" y="226.1" width="5.78" height="2.4" fill="#35b779"/>
<rect x="392.30" y="228.5" width="5.78" height="4.8" fill="#440154"/>
<rect x="398.04" y="168.5" width="5.78" height="4.8" fill="#eae51a"/>
<rect x="398.04" y="194.9" width="5.78" height="2.4" fill="#eae51a"/>
<rect x="398.04" y="199.7" width="5.78" height="2.4" fill="#eae51a"/>
<rect x="398.04" y="214.1" width="5.78" height="4.8" fill="#eae51a"/>
<rect x="398.04" y="218.9" width="5.78" height="2.4" fill="#d2e21b"/>
<rect x="398.04" y="221.3" width="5.78" height="2.4" fill="#bddf26"/>
<rect x="398.04" y="223.7" width="5.78" height="2.4" fill="#86d549"/>
<rect x="398.04" y="226.1" width="5.78" height="2.4" fill="#35b779"/>
<rect x="398.04" y="228.5" width="5.78" height="4.8" fill="#440154"/>
<rect x="403.77" y="168.5" width="5.78" height="4.8" fill="#eae51a"/>
<rect x="403.77" y="194.9" width="5.78" height="2.4" fill="#eae51a"/>
<rect x="403.77" y="214.1" width="5.78" height="4.8" fill="#dfe318"/>
<rect x="403.77" y="218.9" width="5.78" height="2.4" fill="#d2e21b"/>
<rect x="403.77" y="221.3" width="5.78" height="2.4" fill="#b2dd2d"/>
<rect x="403.77" y="223.7" width="5.78" height="2.4" fill="#90d743"/>
<rect x="403.77" y="226.1" width="5.78" height="2.4" fill="#35b779"/>
<rect x="403.77" y="228.5" width="5.78" height="4.8" fill="#440154"/>
<rect x="409.51" y="168.5" width="5.78" height="4.8" fill="#eae51a"/>
<rect x="409.51" y="190.1" width="5.78" height="2.4" fill="#eae51a"/>
<rect x="409.51" y="209.3" width="5.78" height="2.4" fill="#f4e61e"/>
<rect x="409.51" y="211.7" width="5.78" height="4.8" fill="#dfe318"/>
<rect x="409.51" y="216.5" width="5.78" height="2.4" fill="#d2e21b"/>
<rect x="409.51" y="218.9" width="5.78" height="2.4" fill="#c8e020"/>
<rect x="409.51" y="221.3" width="5.78" height="2.4" fill="#b2dd2d"/>
<rect x="409.51" y="223.7" width="5.78" height="2.4" fill="#86d549"/>
<rect x="409.51" y="226.1" width="5.78" height="2.4" fill="#35b779"/>
<rect x="409.51" y="228.5" width="5.78" height="4.8" fill="#440154"/>
<rect x="415.24" y="168.5" width="5.78" height="4.8" fill="#eae51a"/>
<rect x="415.24" y="185.3" width="5.78" height="2.4" fill="#eae51a"/>
<rect x="415.24" y="206.9" width="5.78" height="7.2" fill="#eae51a"/>
<rect x="415.24" y="214.1" width="5.78" height="4.8" fill="#d2e21b"/>
<rect x="415.24" y="218.9" width="5.78" height="2.4" fill="#a5db36"/>
<rect x="415.24" y="221.3" width="5.78" height="2.4" fill="#5cc863"/>
<rect x="415.24" y="223.7" width="5.78" height="2.4" fill="#21908d"/>
<rect x="415.24" y="226.1" width="5.78" height="2.4" fill="#414487"/>
<rect x="415.24" y="228.5" width="5.78" height="4.8" fill="#2d708e"/>
<rect x="420.97" y="168.5" width="5.78" height="4.8" fill="#eae51a"/>
<rect x="420.97" y="185.3" width="5.78" height="2.4" fill="#eae51a"/>
<rect x="420.97" y="204.5" width="5.78" height="2.4" fill="#eae51a"/>
<rect x="420.97" y="206.9" width="5.78" height="2.4" fill="#f4e61e"/>
<rect x="420.97" y="209.3" width="5.78" height="2.4" fill="#eae51a"/>
<rect x="420.97" y="211.7" width="5.78" height="2.4" fill="#dfe318"/>
<rect x="420.97" y="214.1" width="5.78" height="2.4" fill="#d2e21b"/>
<rect x="420.97" y="216.5" width="5.78" height="2.4" fill="#c8e020"/>
<rect x="420.97" y="218.9" width="5.78" height="2.4" fill="#a5db36"/>
<rect x="420.97" y="221.3" width="5.78" height="2.4" fill="#5cc863"/>
<rect x="420.97" y="223.7" width="5.78" height="2.4" fill="#21908d"/>
<rect x="420.97" y="226.1" width="5.78" height="2.4" fill="#414487"/>
<rect x="420.97" y="228.5" width="5.78" height="4.8" fill="#1f988b"/>
<rect x="426.71" y="168.5" width="5.78" height="4.8" fill="#eae51a"/>
<rect x="426.71" y="187.7" width="5.78" height="2.4" fill="#eae51a"/>
<rect x="426.71" y="202.1" width="5.78" height="9.7" fill="#eae51a"/>
<rect x="426.71" y="211.7" width="5.78" height="2.4" fill="#d2e21b"/>
<rect x="426.71" y="214.1" width="5.78" height="2.4" fill="#dfe318"/>
<rect x="426.71" y="216.5" width="5.78" height="2.4" fill="#c8e020"/>
<rect x="426.71" y="218.9" width="5.78" height="2.4" fill="#b2dd2d"/>
<rect x="426.71" y="221.3" width="5.78" height="2.4" fill="#5cc863"/>
<rect x="426.71" y="223.7" width="5.78" height="2.4" fill="#21908d"/>
<rect x="426.71" y="226.1" width="5.78" height="2.4" fill="#414487"/>
<rect x="426.71" y="228.5" width="5.78" height="2.4" fill="#1f988b"/>
<rect x="426.71" y="230.9" width="5.78" height="2.4" fill="#35b779"/>
<rect x="432.44" y="166.1" width="5.78" height="4.8" fill="#eae51a"/>
<rect x="432.44" y="190.1" width="5.78" height="2.4" fill="#eae51a"/>
<rect x="432.44" y="199.7" width="5.78" height="4.8" fill="#f4e61e"/>
<rect x="432.44" y="204.5" width="5.78" height="4.8" fill="#eae51a"/>
<rect x="432.44" y="209.3" width="5.78" height="4.8" fill="#dfe318"/>
<rect x="432.44" y="214.1" width="5.78" height="2.4" fill="#d2e21b"/>
<rect x="432.44" y="216.5" width="5.78" height="2.4" fill="#bddf26"/>
<rect x="432.44" y="218.9" width="5.78" height="2.4" fill="#a5db36"/>
<rect x="432.44" y="221.3" width="5.78" height="2.4" fill="#67cc5c"/>
<rect x="432.44" y="223.7" width="5.78" height="2.4" fill="#21908d"/>
<rect x="432.44" y="226.1" width="5.78" height="2.4" fill="#414487"/>
<rect x="432.44" y="228.5" width="5.78" height="2.4" fill="#1f988b"/>
<rect x="432.44" y="230.9" width="5.78" height="2.4" fill="#67cc5c"/>
<rect x="438.17" y="166.1" width="5.78" height="4.8" fill="#eae51a"/>
<rect x="438.17" y="192.5" width="5.78" height="2.4" fill="#eae51a"/>
<rect x="438.17" y="197.3" width="5.78" height="2.4" fill="#f4e61e"/>
<rect x="438.17" y="199.7" width="5.78" height="2.4" fill="#eae51a"/>
<rect x="438.17" y="202.1" width="5.78" height="2.4" fill="#f4e61e"/>
<rect x="438.17" y="204.5" width="5.78" height="2.4" fill="#eae51a"/>
<rect x="438.17" y="206.9" width="5.78" height="2.4" fill="#f4e61e"/>
<rect x="438.17" y="209.3" width="5.78" height="2.4" fill="#dfe318"/>
<rect x="438.17" y="211.7" width="5.78" height="2.4" fill="#eae51a"/>
<rect x="438.17" y="214.1" width="5.78" height="2.4" fill="#dfe318"/>
<rect x="438.17" y="216.5" width="5.78" height="2.4" fill="#d2e21b"/>
<rect x="438.17" y="218.9" width="5.78" height="2.4" fill="#a5db36"/>
<rect x="438.17" y="221.3" width="5.78" height="2.4" fill="#70cf57"/>
<rect x="438.17" y="223.7" width="5.78" height="2.4" fill="#21908d"/>
<rect x="438.17" y="226.1" width="5.78" height="2.4" fill="#414487"/>
<rect x="438.17" y="228.5" width="5.78" height="2.4" fill="#1f988b"/>
<rect x="438.17" y="230.9" width="5.78" height="2.4" fill="#a5db36"/>
<rect x="443.91" y="168.5" width="5.78" height="4.8" fill="#eae51a"/>
<rect x="443.91" y="192.5" width="5.78" height="12.1" fill="#f4e61e"/>
<rect x="443.91" y="204.5" width="5.78" height="2.4" fill="#eae51a"/>
<rect x="443.91" y="206.9" width="5.78" height="2.4" fill="#dfe318"/>
<rect x="443.91" y="209.3" width="5.78" height="4.8" fill="#eae51a"/>
<rect x="443.91" y="214.1" width="5.78" height="2.4" fill="#d2e21b"/>
<rect x="443.91" y="216.5" width="5.78" height="2.4" fill="#c8e020"/>
<rect x="443.91" y="218.9" width="5.78" height="2.4" fill="#b2dd2d"/>
<rect x="443.91" y="221.3" width="5.78" height="2.4" fill="#70cf57"/>
<rect x="443.91" y="223.7" width="5.78" height="2.4" fill="#21908d"/>
<rect x="443.91" y="226.1" width="5.78" height="2.4" fill="#414487"/>
<rect x="443.91" y="228.5" width="5.78" height="2.4" fill="#1f988b"/>
<rect x="443.91" y="230.9" width="5.78" height="2.4" fill="#eae51a"/>
<rect x="449.64" y="170.9" width="5.78" height="2.4" fill="#eae51a"/>
<rect x="449.64" y="190.1" width="5.78" height="2.4" fill="#eae51a"/>
<rect x="449.64" y="192.5" width="5.78" height="9.7" fill="#f4e61e"/>
<rect x="449.64" y="202.1" width="5.78" height="2.4" fill="#dfe318"/>
<rect x="449.64" y="204.5" width="5.78" height="2.4" fill="#f4e61e"/>
<rect x="449.64" y="206.9" width="5.78" height="2.4" fill="#eae51a"/>
<rect x="449.64" y="209.3" width="5.78" height="2.4" fill="#dfe318"/>
<rect x="449.64" y="211.7" width="5.78" height="4.8" fill="#d2e21b"/>
<rect x="449.64" y="216.5" width="5.78" height="2.4" fill="#c8e020"/>
<rect x="449.64" y="218.9" width="5.78" height="2.4" fill="#a5db36"/>
<rect x="449.64" y="221.3" width="5.78" height="2.4" fill="#70cf57"/>
<rect x="449.64" y="223.7" width="5.78" height="2.4" fill="#21908d"/>
<rect x="449.64" y="226.1" width="5.78" height="2.4" fill="#414487"/>
<rect x="455.37" y="170.9" width="5.78" height="2.4" fill="#eae51a"/>
<rect x="455.37" y="190.1" width="5.78" height="2.4" fill="#f4e61e"/>
<rect x="455.37" y="192.5" width="5.78" height="2.4" fill="#eae51a"/>
<rect x="455.37" y="194.9" width="5.78" height="14.4" fill="#f4e61e"/>
<rect x="455.37" y="209.3" width="5.78" height="2.4" fill="#dfe318"/>
<rect x="455.37" y="211.7" width="5.78" height="2.4" fill="#eae51a"/>
<rect x="455.37" y="214.1" width="5.78" height="2.4" fill="#dfe318"/>
<rect x="455.37" y="216.5" width="5.78" height="2.4" fill="#c8e020"/>
<rect x="455.37" y="218.9" width="5.78" height="2.4" fill="#54c568"/>
<rect x="455.37" y="221.3" width="5.78" height="4.8" fill="#1f988b"/>
<rect x="455.37" y="226.1" width="5.78" height="4.8" fill="#440154"/>
<rect x="461.11" y="175.7" width="5.78" height="4.8" fill="#eae51a"/>
<rect x="461.11" y="187.7" width="5.78" height="2.4" fill="#f4e61e"/>
<rect x="461.11" y="190.1" width="5.78" height="7.2" fill="#eae51a"/>
<rect x="461.11" y="197.3" width="5.78" height="4.8" fill="#dfe318"/>
<rect x="461.11" y="202.1" width="5.78" height="2.4" fill="#eae51a"/>
<rect x="461.11" y="204.5" width="5.78" height="2.4" fill="#d2e21b"/>
<rect x="461.11" y="206.9" width="5.78" height="4.8" fill="#c8e020"/>
<rect x="461.11" y="211.7" width="5.78" height="2.4" fill="#d2e21b"/>
<rect x="461.11" y="214.1" width="5.78" height="2.4" fill="#b2dd2d"/>
<rect x="461.11" y="216.5" width="5.78" height="2.4" fill="#9bd93c"/>
<rect x="461.11" y="218.9" width="5.78" height="2.4" fill="#54c568"/>
<rect x="461.11" y="221.3" width="5.78" height="4.8" fill="#1f988b"/>
<rect x="461.11" y="226.1" width="5.78" height="4.8" fill="#440154"/>
<rect x="461.11" y="230.9" width="5.78" height="2.4" fill="#dfe318"/>
<rect x="466.84" y="175.7" width="5.78" height="4.8" fill="#eae51a"/>
<rect x="466.84" y="185.3" width="5.78" height="2.4" fill="#f4e61e"/>
<rect x="466.84" y="187.7" width="5.78" height="2.4" fill="#dfe318"/>
<rect x="466.84" y="190.1" width="5.78" height="2.4" fill="#eae51a"/>
<rect x="466.84" y="192.5" width="5.78" height="7.2" fill="#f4e61e"/>
<rect x="466.84" y="199.7" width="5.78" height="2.4" fill="#eae51a"/>
<rect x="466.84" y="202.1" width="5.78" height="2.4" fill="#d2e21b"/>
<rect x="466.84" y="204.5" width="5.78" height="4.8" fill="#dfe318"/>
<rect x="466.84" y="209.3" width="5.78" height="2.4" fill="#bddf26"/>
<rect x="466.84" y="211.7" width="5.78" height="4.8" fill="#b2dd2d"/>
<rect x="466.84" y="216.5" width="5.78" height="2.4" fill="#7ad151"/>
<rect x="466.84" y="218.9" width="5.78" height="4.8" fill="#1f988b"/>
<rect x="466.84" y="223.7" width="5.78" height="4.8" fill="#443983"/>
<rect x="466.84" y="228.5" width="5.78" height="2.4" fill="#b2dd2d"/>
<rect x="466.84" y="230.9" width="5.78" height="2.4" fill="#c8e020"/>
<rect x="472.57" y="175.7" width="5.78" height="2.4" fill="#eae51a"/>
<rect x="472.57" y="185.3" width="5.78" height="2.4" fill="#eae51a"/>
<rect x="472.57" y="187.7" width="5.78" height="2.4" fill="#dfe318"/>
<rect x="472.57" y="190.1" width="5.78" height="2.4" fill="#eae51a"/>
<rect x="472.57" y="192.5" width="5.78" height="2.4" fill="#dfe318"/>
<rect x="472.57" y="194.9" width="5.78" height="2.4" fill="#f4e61e"/>
<rect x="472.57" y="197.3" width="5.78" height="4.8" fill="#dfe318"/>
<rect x="472.57" y="202.1" width="5.78" height="2.4" fill="#d2e21b"/>
<rect x="472.57" y="204.5" width="5.78" height="2.4" fill="#dfe318"/>
<rect x="472.57" y="206.9" width="5.78" height="4.8" fill="#c8e020"/>
<rect x="472.57" y="211.7" width="5.78" height="2.4" fill="#bddf26"/>
<rect x="472.57" y="214.1" width="5.78" height="2.4" fill="#b2dd2d"/>
<rect x="472.57" y="216.5" width="5.78" height="2.4" fill="#86d549"/>
<rect x="472.57" y="218.9" width="5.78" height="4.8" fill="#1f988b"/>
<rect x="472.57" y="223.7" width="5.78" height="4.8" fill="#443983"/>
<rect x="472.57" y="228.5" width="5.78" height="2.4" fill="#b2dd2d"/>
<rect x="472.57" y="230.9" width="5.78" height="2.4" fill="#dfe318"/>
<rect x="478.31" y="178.1" width="5.78" height="4.8" fill="#eae51a"/>
<rect x="478.31" y="182.9" width="5.78" height="4.8" fill="#f4e61e"/>
<rect x="478.31" y="187.7" width="5.78" height="7.2" fill="#eae51a"/>
<rect x="478.31" y="194.9" width="5.78" height="2.4" fill="#dfe318"/>
<rect x="478.31" y="197.3" width="5.78" height="2.4" fill="#f4e61e"/>
<rect x="478.31" y="199.7" width="5.78" height="2.4" fill="#d2e21b"/>
<rect x="478.31" y="202.1" width="5.78" height="2.4" fill="#dfe318"/>
<rect x="478.31" y="204.5" width="5.78" height="2.4" fill="#d2e21b"/>
<rect x="478.31" y="206.9" width="5.78" height="2.4" fill="#c8e020"/>
<rect x="478.31" y="209.3" width="5.78" height="2.4" fill="#b2dd2d"/>
<rect x="478.31" y="211.7" width="5.78" height="2.4" fill="#a5db36"/>
<rect x="478.31" y="214.1" width="5.78" height="2.4" fill="#70cf57"/>
<rect x="478.31" y="216.5" width="5.78" height="4.8" fill="#1f988b"/>
<rect x="478.31" y="221.3" width="5.78" height="4.8" fill="#440154"/>
<rect x="478.31" y="226.1" width="5.78" height="2.4" fill="#a5db36"/>
<rect x="484.04" y="178.1" width="5.78" height="4.8" fill="#eae51a"/>
<rect x="484.04" y="182.9" width="5.78" height="2.4" fill="#f4e61e"/>
<rect x="484.04" y="185.3" width="5.78" height="4.8" fill="#eae51a"/>
<rect x="484.04" y="190.1" width="5.78" height="2.4" fill="#f4e61e"/>
<rect x="484.04" y="192.5" width="5.78" height="2.4" fill="#eae51a"/>
<rect x="484.04" y="194.9" width="5.78" height="2.4" fill="#dfe318"/>
<rect x="484.04" y="197.3" width="5.78" height="2.4" fill="#d2e21b"/>
<rect x="484.04" y="199.7" width="5.78" height="2.4" fill="#dfe318"/>
<rect x="484.04" y="202.1" width="5.78" height="2.4" fill="#c8e020"/>
<rect x="484.04" y="204.5" width="5.78" height="2.4" fill="#d2e21b"/>
<rect x="484.04" y="206.9" width="5.78" height="2.4" fill="#c8e020"/>
<rect x="484.04" y="209.3" width="5.78" height="4.8" fill="#b2dd2d"/>
<rect x="484.04" y="214.1" width="5.78" height="2.4" fill="#67cc5c"/>
<rect x="484.04" y="216.5" width="5.78" height="4.8" fill="#1f988b"/>
<rect x="484.04" y="221.3" width="5.78" height="4.8" fill="#440154"/>
<rect x="484.04" y="226.1" width="5.78" height="2.4" fill="#b2dd2d"/>
<rect x="489.77" y="180.5" width="5.78" height="2.4" fill="#f4e61e"/>
<rect x="489.77" y="182.9" width="5.78" height="2.4" fill="#eae51a"/>
<rect x="489.77" y="185.3" width="5.78" height="2.4" fill="#f4e61e"/>
<rect x="489.77" y="187.7" width="5.78" height="4.8" fill="#eae51a"/>
<rect x="489.77" y="192.5" width="5.78" height="2.4" fill="#dfe318"/>
<rect x="489.77" y="194.9" width="5.78" height="4.8" fill="#eae51a"/>
<rect x="489.77" y="199.7" width="5.78" height="2.4" fill="#dfe318"/>
<rect x="489.77" y="202.1" width="5.78" height="2.4" fill="#d2e21b"/>
<rect x="489.77" y="204.5" width="5.78" height="2.4" fill="#c8e020"/>
<rect x="489.77" y="206.9" width="5.78" height="2.4" fill="#d2e21b"/>
<rect x="489.77" y="209.3" width="5.78" height="2.4" fill="#b2dd2d"/>
<rect x="489.77" y="211.7" width="5.78" height="2.4" fill="#a5db36"/>
<rect x="489.77" y="214.1" width="5.78" height="2.4" fill="#86d549"/>
<rect x="489.77" y="216.5" width="5.78" height="2.4" fill="#54c568"/>
<rect x="489.77" y="218.9" width="5.78" height="2.4" fill="#1f988b"/>
<rect x="489.77" y="221.3" width="5.78" height="4.8" fill="#440154"/>
<rect x="489.77" y="226.1" width="5.78" height="2.4" fill="#bddf26"/>
<rect x="495.51" y="180.5" width="5.78" height="2.4" fill="#f4e61e"/>
<rect x="495.51" y="182.9" width="5.78" height="2.4" fill="#dfe318"/>
<rect x="495.51" y="185.3" width="5.78" height="12.1" fill="#eae51a"/>
<rect x="495.51" y="197.3" width="5.78" height="4.8" fill="#dfe318"/>
<rect x="495.51" y="202.1" width="5.78" height="2.4" fill="#d2e21b"/>
<rect x="495.51" y="204.5" width="5.78" height="2.4" fill="#dfe318"/>
<rect x="495.51" y="206.9" width="5.78" height="2.4" fill="#c8e020"/>
<rect x="495.51" y="209.3" width="5.78" height="2.4" fill="#b2dd2d"/>
<rect x="495.51" y="211.7" width="5.78" height="2.4" fill="#a5db36"/>
<rect x="495.51" y="214.1" width="5.78" height="2.4" fill="#90d743"/>
<rect x="495.51" y="216.5" width="5.78" height="2.4" fill="#54c568"/>
<rect x="495.51" y="218.9" width="5.78" height="2.4" fill="#1f988b"/>
<rect x="495.51" y="221.3" width="5.78" height="4.8" fill="#440154"/>
<rect x="495.51" y="226.1" width="5.78" height="2.4" fill="#b2dd2d"/>
<rect x="501.24" y="180.5" width="5.78" height="4.8" fill="#f4e61e"/>
<rect x="501.24" y="185.3" width="5.78" height="2.4" fill="#dfe318"/>
<rect x="501.24" y="187.7" width="5.78" height="4.8" fill="#eae51a"/>
<rect x="501.24" y="192.5" width="5.78" height="9.7" fill="#dfe318"/>
<rect x="501.24" y="202.1" width="5.78" height="2.4" fill="#d2e21b"/>
<rect x="501.24" y="204.5" width="5.78" height="4.8" fill="#c8e020"/>
<rect x="501.24" y="209.3" width="5.78" height="2.4" fill="#b2dd2d"/>
<rect x="501.24" y="211.7" width="5.78" height="2.4" fill="#a5db36"/>
<rect x="501.24" y="214.1" width="5.78" height="2.4" fill="#7ad151"/>
<rect x="501.24" y="216.5" width="5.78" height="2.4" fill="#54c568"/>
<rect x="501.24" y="218.9" width="5.78" height="2.4" fill="#1f988b"/>
<rect x="501.24" y="221.3" width="5.78" height="4.8" fill="#440154"/>
<rect x="501.24" y="226.1" width="5.78" height="2.4" fill="#b2dd2d"/>
<rect x="506.97" y="180.5" width="5.78" height="2.4" fill="#eae51a"/>
<rect x="506.97" y="182.9" width="5.78" height="7.2" fill="#f4e61e"/>
<rect x="506.97" y="190.1" width="5.78" height="9.7" fill="#dfe318"/>
<rect x="506.97" y="199.7" width="5.78" height="2.4" fill="#d2e21b"/>
<rect x="506.97" y="202.1" width="5.78" height="4.8" fill="#c8e020"/>
<rect x="506.97" y="206.9" width="5.78" height="2.4" fill="#bddf26"/>
<rect x="506.97" y="209.3" width="5.78" height="2.4" fill="#a5db36"/>
<rect x="506.97" y="211.7" width="5.78" height="2.4" fill="#86d549"/>
<rect x="506.97" y="214.1" width="5.78" height="2.4" fill="#54c568"/>
<rect x="506.97" y="216.5" width="5.78" height="2.4" fill="#1f988b"/>
<rect x="506.97" y="218.9" width="5.78" height="4.8" fill="#440154"/>
<rect x="506.97" y="223.7" width="5.78" height="2.4" fill="#b2dd2d"/>
<rect x="512.71" y="182.9" width="5.78" height="4.8" fill="#eae51a"/>
<rect x="512.71" y="187.7" width="5.78" height="2.4" fill="#dfe318"/>
<rect x="512.71" y="190.1" width="5.78" height="2.4" fill="#f4e61e"/>
<rect x="512.71" y="192.5" width="5.78" height="2.4" fill="#dfe318"/>
<rect x="512.71" y="194.9" width="5.78" height="2.4" fill="#eae51a"/>
<rect x="512.71" y="197.3" width="5.78" height="2.4" fill="#dfe318"/>
<rect x="512.71" y="199.7" width="5.78" height="4.8" fill="#c8e020"/>
<rect x="512.71" y="204.5" width="5.78" height="2.4" fill="#b2dd2d"/>
<rect x="512.71" y="206.9" width="5.78" height="2.4" fill="#a5db36"/>
<rect x="512.71" y="209.3" width="5.78" height="2.4" fill="#90d743"/>
<rect x="512.71" y="211.7" width="5.78" height="2.4" fill="#54c568"/>
<rect x="512.71" y="214.1" width="5.78" height="2.4" fill="#1f988b"/>
<rect x="512.71" y="216.5" width="5.78" height="4.8" fill="#440154"/>
<rect x="512.71" y="221.3" width="5.78" height="2.4" fill="#b2dd2d"/>
<rect x="518.44" y="182.9" width="5.78" height="2.4" fill="#eae51a"/>
<rect x="518.44" y="185.3" width="5.78" height="4.8" fill="#dfe318"/>
<rect x="518.44" y="190.1" width="5.78" height="7.2" fill="#eae51a"/>
<rect x="518.44" y="197.3" width="5.78" height="2.4" fill="#d2e21b"/>
<rect x="518.44" y="199.7" width="5.78" height="2.4" fill="#dfe318"/>
<rect x="518.44" y="202.1" width="5.78" height="2.4" fill="#d2e21b"/>
<rect x="518.44" y="204.5" width="5.78" height="2.4" fill="#c8e020"/>
<rect x="518.44" y="206.9" width="5.78" height="2.4" fill="#b2dd2d"/>
<rect x="518.44" y="209.3" width="5.78" height="2.4" fill="#7ad151"/>
<rect x="518.44" y="211.7" width="5.78" height="2.4" fill="#54c568"/>
<rect x="518.44" y="214.1" width="5.78" height="2.4" fill="#1f988b"/>
<rect x="518.44" y="216.5" width="5.78" height="4.8" fill="#440154"/>
<rect x="518.44" y="221.3" width="5.78" height="2.4" fill="#bddf26"/>
<rect x="524.17" y="182.9" width="5.78" height="2.4" fill="#eae51a"/>
<rect x="524.17" y="185.3" width="5.78" height="2.4" fill="#f4e61e"/>
<rect x="524.17" y="187.7" width="5.78" height="2.4" fill="#eae51a"/>
<rect x="524.17" y="190.1" width="5.78" height="4.8" fill="#f4e61e"/>
<rect x="524.17" y="194.9" width="5.78" height="2.4" fill="#dfe318"/>
<rect x="524.17" y="197.3" width="5.78" height="2.4" fill="#eae51a"/>
<rect x="524.17" y="199.7" width="5.78" height="2.4" fill="#d2e21b"/>
<rect x="524.17" y="202.1" width="5.78" height="2.4" fill="#dfe318"/>
<rect x="524.17" y="204.5" width="5.78" height="2.4" fill="#d2e21b"/>
<rect x="524.17" y="206.9" width="5.78" height="2.4" fill="#b2dd2d"/>
<rect x="524.17" y="209.3" width="5.78" height="2.4" fill="#9bd93c"/>
<rect x="524.17" y="211.7" width="5.78" height="2.4" fill="#5cc863"/>
<rect x="524.17" y="214.1" width="5.78" height="2.4" fill="#25ac82"/>
<rect x="524.17" y="216.5" width="5.78" height="4.8" fill="#440154"/>
<rect x="524.17" y="221.3" width="5.78" height="2.4" fill="#a5db36"/>
<rect x="529.91" y="182.9" width="5.78" height="2.4" fill="#f4e61e"/>
<rect x="529.91" y="190.1" width="5.78" height="2.4" fill="#eae51a"/>
<rect x="529.91" y="192.5" width="5.78" height="2.4" fill="#dfe318"/>
<rect x="529.91" y="194.9" width="5.78" height="2.4" fill="#eae51a"/>
<rect x="529.91" y="197.3" width="5.78" height="4.8" fill="#d2e21b"/>
<rect x="529.91" y="202.1" width="5.78" height="2.4" fill="#dfe318"/>
<rect x="529.91" y="204.5" width="5.78" height="2.4" fill="#d2e21b"/>
<rect x="529.91" y="206.9" width="5.78" height="2.4" fill="#b2dd2d"/>
<rect x="529.91" y="209.3" width="5.78" height="2.4" fill="#90d743"/>
<rect x="529.91" y="211.7" width="5.78" height="2.4" fill="#70cf57"/>
<rect x="529.91" y="214.1" width="5.78" height="2.4" fill="#25ac82"/>
<rect x="529.91" y="216.5" width="5.78" height="4.8" fill="#440154"/>
<rect x="529.91" y="221.3" width="5.78" height="2.4" fill="#b2dd2d"/>
<rect x="535.64" y="187.7" width="5.78" height="2.4" fill="#eae51a"/>
<rect x="535.64" y="190.1" width="5.78" height="2.4" fill="#f4e61e"/>
<rect x="535.64" y="192.5" width="5.78" height="4.8" fill="#dfe318"/>
<rect x="535.64" y="197.3" width="5.78" height="2.4" fill="#eae51a"/>
<rect x="535.64" y="199.7" width="5.78" height="2.4" fill="#dfe318"/>
<rect x="535.64" y="202.1" width="5.78" height="2.4" fill="#c8e020"/>
<rect x="535.64" y="204.5" width="5.78" height="2.4" fill="#bddf26"/>
<rect x="535.64" y="206.9" width="5.78" height="2.4" fill="#9bd93c"/>
<rect x="535.64" y="209.3" width="5.78" height="2.4" fill="#70cf57"/>
<rect x="535.64" y="211.7" width="5.78" height="2.4" fill="#25ac82"/>
<rect x="535.64" y="214.1" width="5.78" height="4.8" fill="#440154"/>
<rect x="535.64" y="218.9" width="5.78" height="2.4" fill="#a5db36"/>
<rect x="541.37" y="187.7" width="5.78" height="2.4" fill="#f4e61e"/>
<rect x="541.37" y="190.1" width="5.78" height="2.4" fill="#eae51a"/>
<rect x="541.37" y="192.5" width="5.78" height="2.4" fill="#dfe318"/>
<rect x="541.37" y="194.9" width="5.78" height="2.4" fill="#eae51a"/>
<rect x="541.37" y="197.3" width="5.78" height="2.4" fill="#dfe318"/>
<rect x="541.37" y="199.7" width="5.78" height="2.4" fill="#d2e21b"/>
<rect x="541.37" y="202.1" width="5.78" height="2.4" fill="#bddf26"/>
<rect x="541.37" y="204.5" width="5.78" height="2.4" fill="#b2dd2d"/>
<rect x="541.37" y="206.9" width="5.78" height="2.4" fill="#9bd93c"/>
<rect x="541.37" y="209.3" width="5.78" height="2.4" fill="#70cf57"/>
<rect x="541.37" y="211.7" width="5.78" height="2.4" fill="#25ac82"/>
<rect x="541.37" y="214.1" width="5.78" height="4.8" fill="#440154"/>
<rect x="541.37" y="218.9" width="5.78" height="2.4" fill="#bddf26"/>
<rect x="547.11" y="185.3" width="5.78" height="2.4" fill="#dfe318"/>
<rect x="547.11" y="187.7" width="5.78" height="2.4" fill="#eae51a"/>
<rect x="547.11" y="190.1" width="5.78" height="2.4" fill="#dfe318"/>
<rect x="547.11" y="192.5" width="5.78" height="2.4" fill="#eae51a"/>
<rect x="547.11" y="194.9" width="5.78" height="2.4" fill="#dfe318"/>
<rect x="547.11" y="197.3" width="5.78" height="4.8" fill="#d2e21b"/>
<rect x="547.11" y="202.1" width="5.78" height="2.4" fill="#c8e020"/>
<rect x="547.11" y="204.5" width="5.78" height="2.4" fill="#bddf26"/>
<rect x="547.11" y="206.9" width="5.78" height="2.4" fill="#9bd93c"/>
<rect x="547.11" y="209.3" width="5.78" height="2.4" fill="#5cc863"/>
<rect x="547.11" y="211.7" width="5.78" height="2.4" fill="#25ac82"/>
<rect x="547.11" y="214.1" width="5.78" height="4.8" fill="#440154"/>
<rect x="547.11" y="218.9" width="5.78" height="2.4" fill="#b2dd2d"/>
<rect x="552.84" y="182.9" width="5.78" height="4.8" fill="#eae51a"/>
<rect x="552.84" y="187.7" width="5.78" height="4.8" fill="#dfe318"/>
<rect x="552.84" y="192.5" width="5.78" height="4.8" fill="#eae51a"/>
<rect x="552.84" y="197.3" width="5.78" height="2.4" fill="#dfe318"/>
<rect x="552.84" y="199.7" width="5.78" height="2.4" fill="#d2e21b"/>
<rect x="552.84" y="202.1" width="5.78" height="2.4" fill="#bddf26"/>
<rect x="552.84" y="204.5" width="5.78" height="2.4" fill="#90d743"/>
<rect x="552.84" y="206.9" width="5.78" height="2.4" fill="#5cc863"/>
<rect x="552.84" y="209.3" width="5.78" height="2.4" fill="#25ac82"/>
<rect x="552.84" y="211.7" width="5.78" height="4.8" fill="#440154"/>
<rect x="552.84" y="216.5" width="5.78" height="2.4" fill="#bddf26"/>
<rect x="558.57" y="182.9" width="5.78" height="4.8" fill="#eae51a"/>
<rect x="558.57" y="187.7" width="5.78" height="2.4" fill="#dfe318"/>
<rect x="558.57" y="190.1" width="5.78" height="4.8" fill="#eae51a"/>
<rect x="558.57" y="194.9" width="5.78" height="4.8" fill="#d2e21b"/>
<rect x="558.57" y="199.7" width="5.78" height="2.4" fill="#c8e020"/>
<rect x="558.57" y="202.1" width="5.78" height="2.4" fill="#b2dd2d"/>
<rect x="558.57" y="204.5" width="5.78" height="2.4" fill="#9bd93c"/>
<rect x="558.57" y="206.9" width="5.78" height="2.4" fill="#70cf57"/>
<rect x="558.57" y="209.3" width="5.78" height="2.4" fill="#25ac82"/>
<rect x="558.57" y="211.7" width="5.78" height="4.8" fill="#440154"/>
<rect x="558.57" y="216.5" width="5.78" height="2.4" fill="#b2dd2d"/>
<rect x="564.31" y="178.1" width="5.78" height="2.4" fill="#eae51a"/>
<rect x="564.31" y="182.9" width="5.78" height="2.4" fill="#eae51a"/>
<rect x="564.31" y="185.3" width="5.78" height="2.4" fill="#f4e61e"/>
<rect x="564.31" y="187.7" width="5.78" height="4.8" fill="#dfe318"/>
<rect x="564.31" y="192.5" width="5.78" height="2.4" fill="#eae51a"/>
<rect x="564.31" y="194.9" width="5.78" height="2.4" fill="#dfe318"/>
<rect x="564.31" y="197.3" width="5.78" height="2.4" fill="#d2e21b"/>
<rect x="564.31" y="199.7" width="5.78" height="2.4" fill="#c8e020"/>
<rect x="564.31" y="202.1" width="5.78" height="2.4" fill="#bddf26"/>
<rect x="564.31" y="204.5" width="5.78" height="2.4" fill="#a5db36"/>
<rect x="564.31" y="206.9" width="5.78" height="2.4" fill="#67cc5c"/>
<rect x="564.31" y="209.3" width="5.78" height="2.4" fill="#25ac82"/>
<rect x="564.31" y="211.7" width="5.78" height="4.8" fill="#440154"/>
<rect x="564.31" y="216.5" width="5.78" height="2.4" fill="#a5db36"/>
<rect x="570.04" y="173.3" width="5.78" height="2.4" fill="#eae51a"/>
<rect x="570.04" y="182.9" width="5.78" height="4.8" fill="#f4e61e"/>
<rect x="570.04" y="187.7" width="5.78" height="4.8" fill="#eae51a"/>
<rect x="570.04" y="194.9" width="5.78" height="2.4" fill="#eae51a"/>
<rect x="570.04" y="197.3" width="5.78" height="2.4" fill="#dfe318"/>
<rect x="570.04" y="199.7" width="5.78" height="4.8" fill="#d2e21b"/>
<rect x="570.04" y="204.5" width="5.78" height="2.4" fill="#bddf26"/>
<rect x="570.04" y="206.9" width="5.78" height="2.4" fill="#86d549"/>
<rect x="570.04" y="209.3" width="5.78" height="2.4" fill="#35b779"/>
<rect x="570.04" y="211.7" width="5.78" height="4.8" fill="#440154"/>
<rect x="570.04" y="216.5" width="5.78" height="2.4" fill="#bddf26"/>
<rect x="575.77" y="168.5" width="5.78" height="4.8" fill="#eae51a"/>
<rect x="575.77" y="182.9" width="5.78" height="4.8" fill="#f4e61e"/>
<rect x="575.77" y="190.1" width="5.78" height="2.4" fill="#f4e61e"/>
<rect x="575.77" y="192.5" width="5.78" height="4.8" fill="#eae51a"/>
<rect x="575.77" y="197.3" width="5.78" height="4.8" fill="#dfe318"/>
<rect x="575.77" y="202.1" width="5.78" height="2.4" fill="#c8e020"/>
<rect x="575.77" y="204.5" width="5.78" height="2.4" fill="#7ad151"/>
<rect x="575.77" y="206.9" width="5.78" height="2.4" fill="#35b779"/>
<rect x="575.77" y="209.3" width="5.78" height="4.8" fill="#440154"/>
<rect x="575.77" y="214.1" width="5.78" height="2.4" fill="#b2dd2d"/>
<rect x="581.51" y="163.7" width="5.78" height="2.4" fill="#eae51a"/>
<rect x="581.51" y="168.5" width="5.78" height="2.4" fill="#eae51a"/>
<rect x="581.51" y="182.9" width="5.78" height="2.4" fill="#f4e61e"/>
<rect x="581.51" y="185.3" width="5.78" height="4.8" fill="#eae51a"/>
<rect x="581.51" y="190.1" width="5.78" height="2.4" fill="#f4e61e"/>
<rect x="581.51" y="192.5" width="5.78" height="4.8" fill="#eae51a"/>
<rect x="581.51" y="197.3" width="5.78" height="4.8" fill="#dfe318"/>
<rect x="581.51" y="202.1" width="5.78" height="2.4" fill="#c8e020"/>
<rect x="581.51" y="204.5" width="5.78" height="2.4" fill="#7ad151"/>
<rect x="581.51" y="206.9" width="5.78" height="2.4" fill="#35b779"/>
<rect x="581.51" y="209.3" width="5.78" height="4.8" fill="#440154"/>
<rect x="581.51" y="214.1" width="5.78" height="2.4" fill="#a5db36"/>
<rect x="587.24" y="158.9" width="5.78" height="2.4" fill="#eae51a"/>
<rect x="587.24" y="180.5" width="5.78" height="2.4" fill="#f4e61e"/>
<rect x="587.24" y="185.3" width="5.78" height="2.4" fill="#f4e61e"/>
<rect x="587.24" y="187.7" width="5.78" height="4.8" fill="#eae51a"/>
<rect x="587.24" y="192.5" width="5.78" height="4.8" fill="#dfe318"/>
<rect x="587.24" y="197.3" width="5.78" height="2.4" fill="#d2e21b"/>
<rect x="587.24" y="199.7" width="5.78" height="2.4" fill="#c8e020"/>
<rect x="587.24" y="202.1" width="5.78" height="2.4" fill="#bddf26"/>
<rect x="587.24" y="204.5" width="5.78" height="2.4" fill="#9bd93c"/>
<rect x="587.24" y="206.9" width="5.78" height="2.4" fill="#35b779"/>
<rect x="587.24" y="209.3" width="5.78" height="4.8" fill="#440154"/>
<rect x="587.24" y="214.1" width="5.78" height="2.4" fill="#bddf26"/>
<rect x="592.97" y="156.5" width="5.78" height="4.8" fill="#eae51a"/>
<rect x="592.97" y="180.5" width="5.78" height="2.4" fill="#f4e61e"/>
<rect x="592.97" y="185.3" width="5.78" height="2.4" fill="#f4e61e"/>
<rect x="592.97" y="187.7" width="5.78" height="2.4" fill="#eae51a"/>
<rect x="592.97" y="190.1" width="5.78" height="2.4" fill="#dfe318"/>
<rect x="592.97" y="192.5" width="5.78" height="2.4" fill="#eae51a"/>
<rect x="592.97" y="194.9" width="5.78" height="4.8" fill="#d2e21b"/>
<rect x="592.97" y="199.7" width="5.78" height="2.4" fill="#dfe318"/>
<rect x="592.97" y="202.1" width="5.78" height="2.4" fill="#bddf26"/>
<rect x="592.97" y="204.5" width="5.78" height="2.4" fill="#90d743"/>
<rect x="592.97" y="206.9" width="5.78" height="2.4" fill="#35b779"/>
<rect x="592.97" y="209.3" width="5.78" height="4.8" fill="#440154"/>
<rect x="592.97" y="214.1" width="5.78" height="2.4" fill="#bddf26"/>
<rect x="598.71" y="154.1" width="5.78" height="2.4" fill="#eae51a"/>
<rect x="598.71" y="173.3" width="5.78" height="2.4" fill="#eae51a"/>
<rect x="598.71" y="180.5" width="5.78" height="2.4" fill="#eae51a"/>
<rect x="598.71" y="182.9" width="5.78" height="2.4" fill="#f4e61e"/>
<rect x="598.71" y="185.3" width="5.78" height="4.8" fill="#eae51a"/>
<rect x="598.71" y="190.1" width="5.78" height="7.2" fill="#dfe318"/>
<rect x="598.71" y="197.3" width="5.78" height="2.4" fill="#d2e21b"/>
<rect x="598.71" y="199.7" width="5.78" height="2.4" fill="#c8e020"/>
<rect x="598.71" y="202.1" width="5.78" height="2.4" fill="#7ad151"/>
<rect x="598.71" y="204.5" width="5.78" height="2.4" fill="#35b779"/>
<rect x="598.71" y="206.9" width="5.78" height="4.8" fill="#440154"/>
<rect x="598.71" y="211.7" width="5.78" height="2.4" fill="#a5db36"/>
<rect x="604.44" y="149.3" width="5.78" height="7.2" fill="#eae51a"/>
<rect x="604.44" y="170.9" width="5.78" height="2.4" fill="#eae51a"/>
<rect x="604.44" y="175.7" width="5.78" height="2.4" fill="#eae51a"/>
<rect x="604.44" y="180.5" width="5.78" height="9.7" fill="#f4e61e"/>
<rect x="604.44" y="190.1" width="5.78" height="4.8" fill="#dfe318"/>
<rect x="604.44" y="194.9" width="5.78" height="2.4" fill="#d2e21b"/>
<rect x="604.44" y="197.3" width="5.78" height="2.4" fill="#dfe318"/>
<rect x="604.44" y="199.7" width="5.78" height="2.4" fill="#b2dd2d"/>
<rect x="604.44" y="202.1" width="5.78" height="2.4" fill="#86d549"/>
<rect x="604.44" y="204.5" width="5.78" height="2.4" fill="#35b779"/>
<rect x="604.44" y="206.9" width="5.78" height="4.8" fill="#440154"/>
<rect x="604.44" y="211.7" width="5.78" height="2.4" fill="#b2dd2d"/>
<rect x="610.18" y="149.3" width="5.78" height="2.4" fill="#eae51a"/>
<rect x="610.18" y="170.9" width="5.78" height="7.2" fill="#eae51a"/>
<rect x="610.18" y="180.5" width="5.78" height="2.4" fill="#eae51a"/>
<rect x="610.18" y="182.9" width="5.78" height="4.8" fill="#f4e61e"/>
<rect x="610.18" y="187.7" width="5.78" height="2.4" fill="#dfe318"/>
<rect x="610.18" y="190.1" width="5.78" height="7.2" fill="#d2e21b"/>
<rect x="610.18" y="197.3" width="5.78" height="2.4" fill="#bddf26"/>
<rect x="610.18" y="199.7" width="5.78" height="2.4" fill="#86d549"/>
<rect x="610.18" y="202.1" width="5.78" height="2.4" fill="#35b779"/>
<rect x="610.18" y="204.5" width="5.78" height="4.8" fill="#440154"/>
<rect x="610.18" y="209.3" width="5.78" height="2.4" fill="#bddf26"/>
<rect x="615.91" y="149.3" width="5.78" height="4.8" fill="#eae51a"/>
<rect x="615.91" y="170.9" width="5.78" height="7.2" fill="#eae51a"/>
<rect x="615.91" y="180.5" width="5.78" height="7.2" fill="#f4e61e"/>
<rect x="615.91" y="187.7" width="5.78" height="4.8" fill="#eae51a"/>
<rect x="615.91" y="192.5" width="5.78" height="4.8" fill="#dfe318"/>
<rect x="615.91" y="197.3" width="5.78" height="2.4" fill="#b2dd2d"/>
<rect x="615.91" y="199.7" width="5.78" height="2.4" fill="#9bd93c"/>
<rect x="615.91" y="202.1" width="5.78" height="2.4" fill="#35b779"/>
<rect x="615.91" y="204.5" width="5.78" height="4.8" fill="#440154"/>
<rect x="615.91" y="209.3" width="5.78" height="2.4" fill="#a5db36"/>
<rect x="621.64" y="149.3" width="5.78" height="4.8" fill="#eae51a"/>
<rect x="621.64" y="170.9" width="5.78" height="2.4" fill="#eae51a"/>
<rect x="621.64" y="175.7" width="5.78" height="4.8" fill="#eae51a"/>
<rect x="621.64" y="180.5" width="5.78" height="4.8" fill="#f4e61e"/>
<rect x="621.64" y="185.3" width="5.78" height="2.4" fill="#dfe318"/>
<rect x="621.64" y="187.7" width="5.78" height="2.4" fill="#f4e61e"/>
<rect x="621.64" y="190.1" width="5.78" height="4.8" fill="#d2e21b"/>
<rect x="621.64" y="194.9" width="5.78" height="4.8" fill="#c8e020"/>
<rect x="621.64" y="199.7" width="5.78" height="2.4" fill="#90d743"/>
<rect x="621.64" y="202.1" width="5.78" height="2.4" fill="#35b779"/>
<rect x="621.64" y="204.5" width="5.78" height="4.8" fill="#440154"/>
<rect x="621.64" y="209.3" width="5.78" height="2.4" fill="#bddf26"/>
<rect x="627.38" y="154.1" width="5.78" height="2.4" fill="#eae51a"/>
<rect x="627.38" y="173.3" width="5.78" height="2.4" fill="#eae51a"/>
<rect x="627.38" y="178.1" width="5.78" height="12.1" fill="#eae51a"/>
<rect x="627.38" y="190.1" width="5.78" height="4.8" fill="#dfe318"/>
<rect x="627.38" y="194.9" width="5.78" height="4.8" fill="#c8e020"/>
<rect x="627.38" y="199.7" width="5.78" height="2.4" fill="#90d743"/>
<rect x="627.38" y="202.1" width="5.78" height="2.4" fill="#35b779"/>
<rect x="627.38" y="204.5" width="5.78" height="4.8" fill="#440154"/>
<rect x="627.38" y="209.3" width="5.78" height="2.4" fill="#bddf26"/>
<rect x="633.11" y="151.7" width="5.78" height="4.8" fill="#eae51a"/>
<rect x="633.11" y="158.9" width="5.78" height="2.4" fill="#eae51a"/>
<rect x="633.11" y="178.1" width="5.78" height="4.8" fill="#eae51a"/>
<rect x="633.11" y="182.9" width="5.78" height="2.4" fill="#f4e61e"/>
<rect x="633.11" y="185.3" width="5.78" height="2.4" fill="#dfe318"/>
<rect x="633.11" y="187.7" width="5.78" height="2.4" fill="#eae51a"/>
<rect x="633.11" y="190.1" width="5.78" height="4.8" fill="#dfe318"/>
<rect x="633.11" y="194.9" width="5.78" height="2.4" fill="#bddf26"/>
<rect x="633.11" y="197.3" width="5.78" height="2.4" fill="#86d549"/>
<rect x="633.11" y="199.7" width="5.78" height="2.4" fill="#35b779"/>
<rect x="633.11" y="202.1" width="5.78" height="4.8" fill="#440154"/>
<rect x="633.11" y="206.9" width="5.78" height="2.4" fill="#b2dd2d"/>
<rect x="638.84" y="154.1" width="5.78" height="2.4" fill="#eae51a"/>
<rect x="638.84" y="158.9" width="5.78" height="2.4" fill="#eae51a"/>
<rect x="638.84" y="166.1" width="5.78" height="2.4" fill="#eae51a"/>
<rect x="638.84" y="173.3" width="5.78" height="2.4" fill="#eae51a"/>
<rect x="638.84" y="175.7" width="5.78" height="7.2" fill="#f4e61e"/>
<rect x="638.84" y="182.9" width="5.78" height="2.4" fill="#dfe318"/>
<rect x="638.84" y="185.3" width="5.78" height="2.4" fill="#f4e61e"/>
<rect x="638.84" y="187.7" width="5.78" height="2.4" fill="#d2e21b"/>
<rect x="638.84" y="190.1" width="5.78" height="2.4" fill="#eae51a"/>
<rect x="638.84" y="192.5" width="5.78" height="2.4" fill="#c8e020"/>
<rect x="638.84" y="194.9" width="5.78" height="2.4" fill="#b2dd2d"/>
<rect x="638.84" y="197.3" width="5.78" height="2.4" fill="#90d743"/>
<rect x="638.84" y="199.7" width="5.78" height="2.4" fill="#35b779"/>
<rect x="638.84" y="202.1" width="5.78" height="4.8" fill="#440154"/>
<rect x="638.84" y="206.9" width="5.78" height="2.4" fill="#b2dd2d"/>
<rect x="644.58" y="156.5" width="5.78" height="4.8" fill="#eae51a"/>
<rect x="644.58" y="170.9" width="5.78" height="2.4" fill="#eae51a"/>
<rect x="644.58" y="175.7" width="5.78" height="2.4" fill="#eae51a"/>
<rect x="644.58" y="178.1" width="5.78" height="4.8" fill="#f4e61e"/>
<rect x="644.58" y="182.9" width="5.78" height="2.4" fill="#eae51a"/>
<rect x="644.58" y="185.3" width="5.78" height="4.8" fill="#d2e21b"/>
<rect x="644.58" y="190.1" width="5.78" height="4.8" fill="#c8e020"/>
<rect x="644.58" y="194.9" width="5.78" height="2.4" fill="#90d743"/>
<rect x="644.58" y="197.3" width="5.78" height="2.4" fill="#35b779"/>
<rect x="644.58" y="199.7" width="5.78" height="4.8" fill="#440154"/>
<rect x="644.58" y="204.5" width="5.78" height="2.4" fill="#a5db36"/>
<rect x="650.31" y="161.3" width="5.78" height="2.4" fill="#eae51a"/>
<rect x="650.31" y="168.5" width="5.78" height="2.4" fill="#eae51a"/>
<rect x="650.31" y="173.3" width="5.78" height="2.4" fill="#f4e61e"/>
<rect x="650.31" y="175.7" width="5.78" height="2.4" fill="#eae51a"/>
<rect x="650.31" y="178.1" width="5.78" height="2.4" fill="#f4e61e"/>
<rect x="650.31" y="180.5" width="5.78" height="2.4" fill="#dfe318"/>
<rect x="650.31" y="182.9" width="5.78" height="2.4" fill="#f4e61e"/>
<rect x="650.31" y="185.3" width="5.78" height="7.2" fill="#dfe318"/>
<rect x="650.31" y="192.5" width="5.78" height="2.4" fill="#c8e020"/>
<rect x="650.31" y="194.9" width="5.78" height="2.4" fill="#86d549"/>
<rect x="650.31" y="197.3" width="5.78" height="2.4" fill="#35b779"/>
<rect x="650.31" y="199.7" width="5.78" height="4.8" fill="#440154"/>
<rect x="650.31" y="204.5" width="5.78" height="2.4" fill="#b2dd2d"/>
<rect x="656.04" y="166.1" width="5.78" height="2.4" fill="#eae51a"/>
<rect x="656.04" y="173.3" width="5.78" height="4.8" fill="#f4e61e"/>
<rect x="656.04" y="178.1" width="5.78" height="2.4" fill="#dfe318"/>
<rect x="656.04" y="180.5" width="5.78" height="2.4" fill="#f4e61e"/>
<rect x="656.04" y="182.9" width="5.78" height="2.4" fill="#dfe318"/>
<rect x="656.04" y="185.3" width="5.78" height="2.4" fill="#eae51a"/>
<rect x="656.04" y="187.7" width="5.78" height="2.4" fill="#dfe318"/>
<rect x="656.04" y="190.1" width="5.78" height="2.4" fill="#b2dd2d"/>
<rect x="656.04" y="192.5" width="5.78" height="2.4" fill="#86d549"/>
<rect x="656.04" y="194.9" width="5.78" height="2.4" fill="#35b779"/>
<rect x="656.04" y="197.3" width="5.78" height="4.8" fill="#440154"/>
<rect x="656.04" y="202.1" width="5.78" height="2.4" fill="#bddf26"/>
<rect x="661.78" y="163.7" width="5.78" height="2.4" fill="#eae51a"/>
<rect x="661.78" y="170.9" width="5.78" height="4.8" fill="#f4e61e"/>
<rect x="661.78" y="175.7" width="5.78" height="9.7" fill="#eae51a"/>
<rect x="661.78" y="185.3" width="5.78" height="2.4" fill="#dfe318"/>
<rect x="661.78" y="187.7" width="5.78" height="2.4" fill="#c8e020"/>
<rect x="661.78" y="190.1" width="5.78" height="2.4" fill="#b2dd2d"/>
<rect x="661.78" y="192.5" width="5.78" height="2.4" fill="#86d549"/>
<rect x="661.78" y="194.9" width="5.78" height="2.4" fill="#35b779"/>
<rect x="661.78" y="197.3" width="5.78" height="4.8" fill="#440154"/>
<rect x="661.78" y="202.1" width="5.78" height="2.4" fill="#bddf26"/>
<rect x="667.51" y="163.7" width="5.78" height="2.4" fill="#eae51a"/>
<rect x="667.51" y="170.9" width="5.78" height="2.4" fill="#f4e61e"/>
<rect x="667.51" y="173.3" width="5.78" height="2.4" fill="#eae51a"/>
<rect x="667.51" y="175.7" width="5.78" height="2.4" fill="#f4e61e"/>
<rect x="667.51" y="178.1" width="5.78" height="2.4" fill="#eae51a"/>
<rect x="667.51" y="180.5" width="5.78" height="2.4" fill="#f4e61e"/>
<rect x="667.51" y="182.9" width="5.78" height="4.8" fill="#dfe318"/>
<rect x="667.51" y="187.7" width="5.78" height="2.4" fill="#c8e020"/>
<rect x="667.51" y="190.1" width="5.78" height="2.4" fill="#b2dd2d"/>
<rect x="667.51" y="192.5" width="5.78" height="2.4" fill="#90d743"/>
<rect x="667.51" y="194.9" width="5.78" height="2.4" fill="#35b779"/>
<rect x="667.51" y="197.3" width="5.78" height="4.8" fill="#440154"/>
<rect x="667.51" y="202.1" width="5.78" height="2.4" fill="#bddf26"/>
<rect x="673.24" y="166.1" width="5.78" height="2.4" fill="#eae51a"/>
<rect x="673.24" y="168.5" width="5.78" height="2.4" fill="#f4e61e"/>
<rect x="673.24" y="170.9" width="5.78" height="2.4" fill="#eae51a"/>
<rect x="673.24" y="173.3" width="5.78" height="4.8" fill="#f4e61e"/>
<rect x="673.24" y="178.1" width="5.78" height="2.4" fill="#dfe318"/>
<rect x="673.24" y="180.5" width="5.78" height="4.8" fill="#eae51a"/>
<rect x="673.24" y="185.3" width="5.78" height="2.4" fill="#dfe318"/>
<rect x="673.24" y="187.7" width="5.78" height="2.4" fill="#d2e21b"/>
<rect x="673.24" y="190.1" width="5.78" height="2.4" fill="#c8e020"/>
<rect x="673.24" y="192.5" width="5.78" height="2.4" fill="#90d743"/>
<rect x="673.24" y="194.9" width="5.78" height="2.4" fill="#35b779"/>
<rect x="673.24" y="197.3" width="5.78" height="4.8" fill="#440154"/>
<rect x="673.24" y="202.1" width="5.78" height="2.4" fill="#b2dd2d"/>
<rect x="678.98" y="163.7" width="5.78" height="4.8" fill="#f4e61e"/>
<rect x="678.98" y="168.5" width="5.78" height="7.2" fill="#eae51a"/>
<rect x="678.98" y="175.7" width="5.78" height="2.4" fill="#f4e61e"/>
<rect x="678.98" y="178.1" width="5.78" height="2.4" fill="#dfe318"/>
<rect x="678.98" y="180.5" width="5.78" height="2.4" fill="#eae51a"/>
<rect x="678.98" y="182.9" width="5.78" height="2.4" fill="#d2e21b"/>
<rect x="678.98" y="185.3" width="5.78" height="2.4" fill="#dfe318"/>
<rect x="678.98" y="187.7" width="5.78" height="2.4" fill="#b2dd2d"/>
<rect x="678.98" y="190.1" width="5.78" height="2.4" fill="#86d549"/>
<rect x="678.98" y="192.5" width="5.78" height="2.4" fill="#35b779"/>
<rect x="678.98" y="194.9" width="5.78" height="4.8" fill="#440154"/>
<rect x="678.98" y="199.7" width="5.78" height="2.4" fill="#35b779"/>
<rect x="678.98" y="202.1" width="5.78" height="2.4" fill="#9bd93c"/>
<rect x="684.71" y="163.7" width="5.78" height="9.7" fill="#f4e61e"/>
<rect x="684.71" y="173.3" width="5.78" height="2.4" fill="#dfe318"/>
<rect x="684.71" y="175.7" width="5.78" height="4.8" fill="#f4e61e"/>
<rect x="684.71" y="180.5" width="5.78" height="2.4" fill="#eae51a"/>
<rect x="684.71" y="182.9" width="5.78" height="2.4" fill="#dfe318"/>
<rect x="684.71" y="185.3" width="5.78" height="4.8" fill="#c8e020"/>
<rect x="684.71" y="190.1" width="5.78" height="2.4" fill="#9bd93c"/>
<rect x="684.71" y="192.5" width="5.78" height="2.4" fill="#35b779"/>
<rect x="684.71" y="194.9" width="5.78" height="4.8" fill="#440154"/>
<rect x="684.71" y="199.7" width="5.78" height="2.4" fill="#35b779"/>
<rect x="684.71" y="202.1" width="5.78" height="2.4" fill="#9bd93c"/>
<rect x="690.44" y="161.3" width="5.78" height="9.7" fill="#f4e61e"/>
<rect x="690.44" y="170.9" width="5.78" height="4.8" fill="#eae51a"/>
<rect x="690.44" y="175.7" width="5.78" height="2.4" fill="#f4e61e"/>
<rect x="690.44" y="178.1" width="5.78" height="2.4" fill="#dfe318"/>
<rect x="690.44" y="180.5" width="5.78" height="2.4" fill="#d2e21b"/>
<rect x="690.44" y="182.9" width="5.78" height="2.4" fill="#dfe318"/>
<rect x="690.44" y="185.3" width="5.78" height="2.4" fill="#c8e020"/>
<rect x="690.44" y="187.7" width="5.78" height="2.4" fill="#90d743"/>
<rect x="690.44" y="190.1" width="5.78" height="2.4" fill="#35b779"/>
<rect x="690.44" y="192.5" width="5.78" height="4.8" fill="#440154"/>
<rect x="690.44" y="197.3" width="5.78" height="2.4" fill="#35b779"/>
<rect x="690.44" y="199.7" width="5.78" height="2.4" fill="#9bd93c"/>
<rect x="696.18" y="161.3" width="5.78" height="4.8" fill="#f4e61e"/>
<rect x="696.18" y="168.5" width="5.78" height="2.4" fill="#f4e61e"/>
<rect x="696.18" y="170.9" width="5.78" height="2.4" fill="#eae51a"/>
<rect x="696.18" y="173.3" width="5.78" height="2.4" fill="#dfe318"/>
<rect x="696.18" y="175.7" width="5.78" height="2.4" fill="#f4e61e"/>
<rect x="696.18" y="178.1" width="5.78" height="2.4" fill="#dfe318"/>
<rect x="696.18" y="180.5" width="5.78" height="2.4" fill="#d2e21b"/>
<rect x="696.18" y="182.9" width="5.78" height="2.4" fill="#dfe318"/>
<rect x="696.18" y="185.3" width="5.78" height="2.4" fill="#b2dd2d"/>
<rect x="696.18" y="187.7" width="5.78" height="2.4" fill="#86d549"/>
<rect x="696.18" y="190.1" width="5.78" height="2.4" fill="#35b779"/>
<rect x="696.18" y="192.5" width="5.78" height="4.8" fill="#440154"/>
<rect x="696.18" y="197.3" width="5.78" height="2.4" fill="#35b779"/>
<rect x="696.18" y="199.7" width="5.78" height="2.4" fill="#9bd93c"/>
<rect x="701.91" y="161.3" width="5.78" height="2.4" fill="#f4e61e"/>
<rect x="701.91" y="163.7" width="5.78" height="2.4" fill="#eae51a"/>
<rect x="701.91" y="168.5" width="5.78" height="2.4" fill="#f4e61e"/>
<rect x="701.91" y="170.9" width="5.78" height="2.4" fill="#dfe318"/>
<rect x="701.91" y="173.3" width="5.78" height="7.2" fill="#eae51a"/>
<rect x="701.91" y="180.5" width="5.78" height="2.4" fill="#dfe318"/>
<rect x="701.91" y="182.9" width="5.78" height="2.4" fill="#d2e21b"/>
<rect x="701.91" y="185.3" width="5.78" height="2.4" fill="#b2dd2d"/>
<rect x="701.91" y="187.7" width="5.78" height="2.4" fill="#86d549"/>
<rect x="701.91" y="190.1" width="5.78" height="2.4" fill="#35b779"/>
<rect x="701.91" y="192.5" width="5.78" height="4.8" fill="#440154"/>
<rect x="701.91" y="197.3" width="5.78" height="2.4" fill="#35b779"/>
<rect x="701.91" y="199.7" width="5.78" height="2.4" fill="#90d743"/>
<rect x="707.64" y="154.1" width="5.78" height="2.4" fill="#eae51a"/>
<rect x="707.64" y="158.9" width="5.78" height="4.8" fill="#eae51a"/>
<rect x="707.64" y="166.1" width="5.78" height="2.4" fill="#f4e61e"/>
<rect x="707.64" y="168.5" width="5.78" height="4.8" fill="#dfe318"/>
<rect x="707.64" y="173.3" width="5.78" height="2.4" fill="#f4e61e"/>
<rect x="707.64" y="175.7" width="5.78" height="2.4" fill="#eae51a"/>
<rect x="707.64" y="178.1" width="5.78" height="2.4" fill="#dfe318"/>
<rect x="707.64" y="180.5" width="5.78" height="2.4" fill="#d2e21b"/>
<rect x="707.64" y="182.9" width="5.78" height="2.4" fill="#bddf26"/>
<rect x="707.64" y="185.3" width="5.78" height="2.4" fill="#9bd93c"/>
<rect x="707.64" y="187.7" width="5.78" height="2.4" fill="#35b779"/>
<rect x="707.64" y="190.1" width="5.78" height="4.8" fill="#440154"/>
<rect x="707.64" y="194.9" width="5.78" height="2.4" fill="#35b779"/>
<rect x="707.64" y="197.3" width="5.78" height="2.4" fill="#9bd93c"/>
<rect x="713.38" y="151.7" width="5.78" height="2.4" fill="#eae51a"/>
<rect x="713.38" y="156.5" width="5.78" height="7.2" fill="#f4e61e"/>
<rect x="713.38" y="166.1" width="5.78" height="2.4" fill="#eae51a"/>
<rect x="713.38" y="168.5" width="5.78" height="2.4" fill="#dfe318"/>
<rect x="713.38" y="170.9" width="5.78" height="2.4" fill="#eae51a"/>
<rect x="713.38" y="173.3" width="5.78" height="4.8" fill="#dfe318"/>
<rect x="713.38" y="178.1" width="5.78" height="2.4" fill="#d2e21b"/>
<rect x="713.38" y="180.5" width="5.78" height="2.4" fill="#dfe318"/>
<rect x="713.38" y="182.9" width="5.78" height="2.4" fill="#b2dd2d"/>
<rect x="713.38" y="185.3" width="5.78" height="2.4" fill="#90d743"/>
<rect x="713.38" y="187.7" width="5.78" height="2.4" fill="#35b779"/>
<rect x="713.38" y="190.1" width="5.78" height="4.8" fill="#440154"/>
<rect x="713.38" y="194.9" width="5.78" height="2.4" fill="#35b779"/>
<rect x="713.38" y="197.3" width="5.78" height="2.4" fill="#9bd93c"/>
<rect x="719.11" y="151.7" width="5.78" height="4.8" fill="#f4e61e"/>
<rect x="719.11" y="156.5" width="5.78" height="2.4" fill="#eae51a"/>
<rect x="719.11" y="158.9" width="5.78" height="9.7" fill="#f4e61e"/>
<rect x="719.11" y="168.5" width="5.78" height="2.4" fill="#dfe318"/>
<rect x="719.11" y="170.9" width="5.78" height="2.4" fill="#f4e61e"/>
<rect x="719.11" y="173.3" width="5.78" height="2.4" fill="#eae51a"/>
<rect x="719.11" y="175.7" width="5.78" height="2.4" fill="#dfe318"/>
<rect x="719.11" y="178.1" width="5.78" height="2.4" fill="#eae51a"/>
<rect x="719.11" y="180.5" width="5.78" height="2.4" fill="#d2e21b"/>
<rect x="719.11" y="182.9" width="5.78" height="2.4" fill="#b2dd2d"/>
<rect x="719.11" y="185.3" width="5.78" height="2.4" fill="#90d743"/>
<rect x="719.11" y="187.7" width="5.78" height="2.4" fill="#35b779"/>
<rect x="719.11" y="190.1" width="5.78" height="4.8" fill="#440154"/>
<rect x="719.11" y="194.9" width="5.78" height="2.4" fill="#35b779"/>
<rect x="719.11" y="197.3" width="5.78" height="2.4" fill="#a5db36"/>
<rect x="724.84" y="149.3" width="5.78" height="2.4" fill="#f4e61e"/>
<rect x="724.84" y="154.1" width="5.78" height="9.7" fill="#f4e61e"/>
<rect x="724.84" y="166.1" width="5.78" height="7.2" fill="#f4e61e"/>
<rect x="724.84" y="173.3" width="5.78" height="2.4" fill="#dfe318"/>
<rect x="724.84" y="175.7" width="5.78" height="4.8" fill="#d2e21b"/>
<rect x="724.84" y="180.5" width="5.78" height="2.4" fill="#bddf26"/>
<rect x="724.84" y="182.9" width="5.78" height="2.4" fill="#86d549"/>
<rect x="724.84" y="185.3" width="5.78" height="2.4" fill="#35b779"/>
<rect x="724.84" y="187.7" width="5.78" height="4.8" fill="#440154"/>
<rect x="724.84" y="192.5" width="5.78" height="2.4" fill="#35b779"/>
<rect x="724.84" y="194.9" width="5.78" height="2.4" fill="#a5db36"/>
<rect x="724.84" y="197.3" width="5.78" height="2.4" fill="#d2e21b"/>
<rect x="730.58" y="149.3" width="5.78" height="2.4" fill="#f4e61e"/>
<rect x="730.58" y="154.1" width="5.78" height="9.7" fill="#f4e61e"/>
<rect x="730.58" y="166.1" width="5.78" height="2.4" fill="#eae51a"/>
<rect x="730.58" y="168.5" width="5.78" height="2.4" fill="#f4e61e"/>
<rect x="730.58" y="170.9" width="5.78" height="2.4" fill="#eae51a"/>
<rect x="730.58" y="173.3" width="5.78" height="2.4" fill="#f4e61e"/>
<rect x="730.58" y="175.7" width="5.78" height="2.4" fill="#dfe318"/>
<rect x="730.58" y="178.1" width="5.78" height="2.4" fill="#c8e020"/>
<rect x="730.58" y="180.5" width="5.78" height="2.4" fill="#bddf26"/>
<rect x="730.58" y="182.9" width="5.78" height="2.4" fill="#86d549"/>
<rect x="730.58" y="185.3" width="5.78" height="2.4" fill="#35b779"/>
<rect x="730.58" y="187.7" width="5.78" height="4.8" fill="#440154"/>
<rect x="730.58" y="192.5" width="5.78" height="2.4" fill="#35b779"/>
<rect x="730.58" y="194.9" width="5.78" height="2.4" fill="#9bd93c"/>
<rect x="730.58" y="197.3" width="5.78" height="2.4" fill="#eae51a"/>
<rect x="736.31" y="149.3" width="5.78" height="2.4" fill="#eae51a"/>
<rect x="736.31" y="154.1" width="5.78" height="2.4" fill="#eae51a"/>
<rect x="736.31" y="158.9" width="5.78" height="2.4" fill="#f4e61e"/>
<rect x="736.31" y="161.3" width="5.78" height="2.4" fill="#eae51a"/>
<rect x="736.31" y="163.7" width="5.78" height="4.8" fill="#f4e61e"/>
<rect x="736.31" y="168.5" width="5.78" height="4.8" fill="#eae51a"/>
<rect x="736.31" y="173.3" width="5.78" height="2.4" fill="#d2e21b"/>
<rect x="736.31" y="175.7" width="5.78" height="2.4" fill="#dfe318"/>
<rect x="736.31" y="178.1" width="5.78" height="2.4" fill="#bddf26"/>
<rect x="736.31" y="180.5" width="5.78" height="2.4" fill="#86d549"/>
<rect x="736.31" y="182.9" width="5.78" height="2.4" fill="#35b779"/>
<rect x="736.31" y="185.3" width="5.78" height="4.8" fill="#440154"/>
<rect x="736.31" y="190.1" width="5.78" height="2.4" fill="#35b779"/>
<rect x="736.31" y="192.5" width="5.78" height="2.4" fill="#90d743"/>
<rect x="736.31" y="194.9" width="5.78" height="2.4" fill="#eae51a"/>
<rect x="742.04" y="149.3" width="5.78" height="2.4" fill="#f4e61e"/>
<rect x="742.04" y="154.1" width="5.78" height="4.8" fill="#f4e61e"/>
<rect x="742.04" y="158.9" width="5.78" height="9.7" fill="#eae51a"/>
<rect x="742.04" y="168.5" width="5.78" height="7.2" fill="#dfe318"/>
<rect x="742.04" y="175.7" width="5.78" height="2.4" fill="#c8e020"/>
<rect x="742.04" y="178.1" width="5.78" height="2.4" fill="#b2dd2d"/>
<rect x="742.04" y="180.5" width="5.78" height="2.4" fill="#86d549"/>
<rect x="742.04" y="182.9" width="5.78" height="2.4" fill="#35b779"/>
<rect x="742.04" y="185.3" width="5.78" height="4.8" fill="#440154"/>
<rect x="742.04" y="190.1" width="5.78" height="2.4" fill="#35b779"/>
<rect x="742.04" y="192.5" width="5.78" height="2.4" fill="#a5db36"/>
<rect x="742.04" y="194.9" width="5.78" height="2.4" fill="#d2e21b"/>
<rect x="747.78" y="146.9" width="5.78" height="2.4" fill="#f4e61e"/>
<rect x="747.78" y="149.3" width="5.78" height="2.4" fill="#eae51a"/>
<rect x="747.78" y="151.7" width="5.78" height="4.8" fill="#f4e61e"/>
<rect x="747.78" y="156.5" width="5.78" height="2.4" fill="#eae51a"/>
<rect x="747.78" y="158.9" width="5.78" height="4.8" fill="#f4e61e"/>
<rect x="747.78" y="163.7" width="5.78" height="2.4" fill="#eae51a"/>
<rect x="747.78" y="166.1" width="5.78" height="7.2" fill="#dfe318"/>
<rect x="747.78" y="173.3" width="5.78" height="2.4" fill="#d2e21b"/>
<rect x="747.78" y="175.7" width="5.78" height="2.4" fill="#bddf26"/>
<rect x="747.78" y="178.1" width="5.78" height="2.4" fill="#86d549"/>
<rect x="747.78" y="180.5" width="5.78" height="2.4" fill="#35b779"/>
<rect x="747.78" y="182.9" width="5.78" height="4.8" fill="#443983"/>
<rect x="747.78" y="187.7" width="5.78" height="2.4" fill="#35b779"/>
<rect x="747.78" y="190.1" width="5.78" height="2.4" fill="#9bd93c"/>
<rect x="747.78" y="192.5" width="5.78" height="2.4" fill="#dfe318"/>
<rect x="753.51" y="146.9" width="5.78" height="7.2" fill="#f4e61e"/>
<rect x="753.51" y="154.1" width="5.78" height="4.8" fill="#eae51a"/>
<rect x="753.51" y="158.9" width="5.78" height="7.2" fill="#f4e61e"/>
<rect x="753.51" y="166.1" width="5.78" height="4.8" fill="#eae51a"/>
<rect x="753.51" y="170.9" width="5.78" height="2.4" fill="#dfe318"/>
<rect x="753.51" y="173.3" width="5.78" height="2.4" fill="#d2e21b"/>
<rect x="753.51" y="175.7" width="5.78" height="2.4" fill="#c8e020"/>
<rect x="753.51" y="178.1" width="5.78" height="2.4" fill="#86d549"/>
<rect x="753.51" y="180.5" width="5.78" height="2.4" fill="#35b779"/>
<rect x="753.51" y="182.9" width="5.78" height="4.8" fill="#443983"/>
<rect x="753.51" y="187.7" width="5.78" height="2.4" fill="#35b779"/>
<rect x="753.51" y="190.1" width="5.78" height="2.4" fill="#9bd93c"/>
<rect x="753.51" y="192.5" width="5.78" height="2.4" fill="#d2e21b"/>
</g>
<path d="M154.5 60.5V420.5M181.5 60.5V420.5M200.5 60.5V420.5M215.5 60.5V420.5M227.5 60.5V420.5M237.5 60.5V420.5M246.5 60.5V420.5M253.5 60.5V420.5M260.5 60.5V420.5M306.5 60.5V420.5M333.5 60.5V420.5M352.5 60.5V420.5M367.5 60.5V420.5M379.5 60.5V420.5M389.5 60.5V420.5M398.5 60.5V420.5M406.5 60.5V420.5M413.5 60.5V420.5M459.5 60.5V420.5M485.5 60.5V420.5M504.5 60.5V420.5M519.5 60.5V420.5M531.5 60.5V420.5M542.5 60.5V420.5M550.5 60.5V420.5M558.5 60.5V420.5M565.5 60.5V420.5M611.5 60.5V420.5M638.5 60.5V420.5M657.5 60.5V420.5M672.5 60.5V420.5M684.5 60.5V420.5M694.5 60.5V420.5M703.5 60.5V420.5M711.5 60.5V420.5M717.5 60.5V420.5M108.5 84.5H756.5M108.5 132.5H756.5M108.5 180.5H756.5M108.5 228.5H756.5M108.5 276.5H756.5M108.5 324.5H756.5M108.5 372.5H756.5" stroke="#b0b0b0" stroke-width="1.11" fill="none"/>
<path d="M260.87 160.10 L313.04 174.27 L337.84 205.70 L398.47 228.50 L501.58 175.69 L514.22 172.09 L535.03 182.90 L550.01 212.89 L594.18 228.51 L611.47 272.89 L801.77 242.89" stroke="#666666" stroke-width="2.78" fill="none" stroke-linejoin="round" clip-path="url(#axclip)"/>
<path d="M260.87 343.70 L295.98 340.58 L352.60 340.57 L398.47 346.58 L427.47 333.37 L471.17 297.25 L509.76 279.14 L519.74 279.13 L531.80 298.10 L565.60 333.50 L577.67 339.49 L595.03 329.61 L617.48 366.51 L641.74 384.49 L665.13 390.50 L694.37 390.50 L718.63 384.50 L746.55 384.47 L796.58 390.47" stroke="#666666" stroke-width="2.78" fill="none" stroke-linejoin="round" clip-path="url(#axclip)"/>
<rect x="108.5" y="60.5" width="648.0" height="360.0" fill="none" stroke="#000" stroke-width="1.11"/>
<path d="M108.5 84.5h-4.86M108.5 132.5h-4.86M108.5 180.5h-4.86M108.5 228.5h-4.86M108.5 276.5h-4.86M108.5 324.5h-4.86M108.5 372.5h-4.86M108.5 420.5h-4.86M108.5 420.5v4.86M260.5 420.5v4.86M413.5 420.5v4.86M565.5 420.5v4.86M717.5 420.5v4.86" stroke="#000" stroke-width="1.11" fill="none"/>
<path d="M154.5 420.5v2.78M181.5 420.5v2.78M200.5 420.5v2.78M215.5 420.5v2.78M227.5 420.5v2.78M237.5 420.5v2.78M246.5 420.5v2.78M253.5 420.5v2.78M306.5 420.5v2.78M333.5 420.5v2.78M352.5 420.5v2.78M367.5 420.5v2.78M379.5 420.5v2.78M389.5 420.5v2.78M398.5 420.5v2.78M406.5 420.5v2.78M459.5 420.5v2.78M485.5 420.5v2.78M504.5 420.5v2.78M519.5 420.5v2.78M531.5 420.5v2.78M542.5 420.5v2.78M550.5 420.5v2.78M558.5 420.5v2.78M611.5 420.5v2.78M638.5 420.5v2.78M657.5 420.5v2.78M672.5 420.5v2.78M684.5 420.5v2.78M694.5 420.5v2.78M703.5 420.5v2.78M711.5 420.5v2.78" stroke="#000" stroke-width="0.83" fill="none"/>
<text y="51.80"><tspan x="119.57" textLength="115.10" lengthAdjust="spacingAndGlyphs">HL.PRGA.00.HNE</tspan> <tspan x="239.95" textLength="3.75" lengthAdjust="spacingAndGlyphs">|</tspan> <tspan x="248.98" textLength="56.23" lengthAdjust="spacingAndGlyphs">200.0Hz</tspan> <tspan x="310.49" textLength="3.75" lengthAdjust="spacingAndGlyphs">|</tspan> <tspan x="319.53" textLength="149.70" lengthAdjust="spacingAndGlyphs">2025-11-30T00:00:02</tspan> <tspan x="474.51" textLength="4.09" lengthAdjust="spacingAndGlyphs">-</tspan> <tspan x="483.87" textLength="149.70" lengthAdjust="spacingAndGlyphs">2025-12-12T22:30:01</tspan> <tspan x="638.85" textLength="3.75" lengthAdjust="spacingAndGlyphs">|</tspan> <tspan x="647.89" textLength="25.44" lengthAdjust="spacingAndGlyphs">600</tspan> <tspan x="678.61" textLength="66.82" lengthAdjust="spacingAndGlyphs">segments</tspan></text>
<text x="96.90" y="89.50" text-anchor="end" textLength="27.31" lengthAdjust="spacingAndGlyphs">−60</text>
<text x="96.90" y="137.50" text-anchor="end" textLength="27.31" lengthAdjust="spacingAndGlyphs">−80</text>
<text x="96.90" y="185.50" text-anchor="end" textLength="35.15" lengthAdjust="spacingAndGlyphs">−100</text>
<text x="96.90" y="233.50" text-anchor="end" textLength="35.15" lengthAdjust="spacingAndGlyphs">−120</text>
<text x="96.90" y="281.50" text-anchor="end" textLength="35.15" lengthAdjust="spacingAndGlyphs">−140</text>
<text x="96.90" y="329.50" text-anchor="end" textLength="35.15" lengthAdjust="spacingAndGlyphs">−160</text>
<text x="96.90" y="377.50" text-anchor="end" textLength="35.15" lengthAdjust="spacingAndGlyphs">−180</text>
<text x="96.90" y="425.50" text-anchor="end" textLength="35.15" lengthAdjust="spacingAndGlyphs">−200</text>
<text x="108.50" y="441.00" text-anchor="middle" textLength="30.92" lengthAdjust="spacingAndGlyphs">0.01</text>
<text x="260.50" y="441.00" text-anchor="middle" textLength="22.09" lengthAdjust="spacingAndGlyphs">0.1</text>
<text x="413.50" y="441.00" text-anchor="middle" textLength="8.84" lengthAdjust="spacingAndGlyphs">1</text>
<text x="565.50" y="441.00" text-anchor="middle" textLength="17.67" lengthAdjust="spacingAndGlyphs">10</text>
<text x="717.50" y="441.00" text-anchor="middle" textLength="26.51" lengthAdjust="spacingAndGlyphs">100</text>
<text x="432.30" y="459.60" text-anchor="middle" textLength="65.80" lengthAdjust="spacingAndGlyphs">Period [s]</text>
<g transform="translate(47.3 240.1) rotate(-90)">
<text x="0" y="0" text-anchor="middle" textLength="180" lengthAdjust="spacingAndGlyphs">Amplitude [<tspan font-style="italic">m</tspan><tspan font-size="10" dy="-5.2">2</tspan><tspan dy="5.2" font-style="italic">/s</tspan><tspan font-size="10" dy="-5.2">4</tspan><tspan dy="5.2" font-style="italic">/Hz</tspan>] [dB]</text>
</g>
<rect x="797.5" y="60.5" width="18.0" height="360.0" fill="url(#cb)"/>
<rect x="797.5" y="60.5" width="18.0" height="360.0" fill="none" stroke="#000" stroke-width="1.11"/>
<text x="825.30" y="425.70" textLength="7.54" lengthAdjust="spacingAndGlyphs">0</text>
<text x="825.30" y="365.70" textLength="7.54" lengthAdjust="spacingAndGlyphs">5</text>
<text x="824.70" y="305.70" textLength="16.07" lengthAdjust="spacingAndGlyphs">10</text>
<text x="824.70" y="245.70" textLength="16.07" lengthAdjust="spacingAndGlyphs">15</text>
<text x="824.70" y="185.70" textLength="16.07" lengthAdjust="spacingAndGlyphs">20</text>
<text x="824.70" y="125.70" textLength="16.07" lengthAdjust="spacingAndGlyphs">25</text>
<text x="824.70" y="65.70" textLength="16.07" lengthAdjust="spacingAndGlyphs">30</text>
<path d="M815.5 420.5h4.86M815.5 360.5h4.86M815.5 300.5h4.86M815.5 240.5h4.86M815.5 180.5h4.86M815.5 120.5h4.86M815.5 60.5h4.86" stroke="#000" stroke-width="1.11" fill="none"/>
<g transform="translate(858.2 242.4) rotate(-90)">
<text x="0.00" y="0.00" text-anchor="middle" textLength="22.60" lengthAdjust="spacingAndGlyphs">[%]</text>
</g>
<rect x="164" y="474.5" width="571.9" height="9.199999999999989" fill="#008000"/>
<rect x="178.1" y="483.7" width="556.8" height="14.800000000000011" fill="#0000ff"/>
<path d="M220.5 483.7V498.5M263.5 483.7V498.5M306.5 483.7V498.5M392.5 483.7V498.5M692.5 483.7V498.5" stroke="#fff" stroke-width="1" fill="none"/>
<rect x="135.5" y="474.5" width="630.0" height="24.0" fill="none" stroke="#000" stroke-width="1.11"/>
<g transform="translate(219.40 517.5) rotate(-30)">
<text x="0.00" y="0.00" text-anchor="end" textLength="80.72" lengthAdjust="spacingAndGlyphs">2025-12-01</text>
</g>
<g transform="translate(305.40 517.5) rotate(-30)">
<text x="0.00" y="0.00" text-anchor="end" textLength="80.72" lengthAdjust="spacingAndGlyphs">2025-12-03</text>
</g>
<g transform="translate(391.40 517.5) rotate(-30)">
<text x="0.00" y="0.00" text-anchor="end" textLength="80.72" lengthAdjust="spacingAndGlyphs">2025-12-05</text>
</g>
<g transform="translate(477.40 517.5) rotate(-30)">
<text x="0.00" y="0.00" text-anchor="end" textLength="80.72" lengthAdjust="spacingAndGlyphs">2025-12-07</text>
</g>
<g transform="translate(562.40 517.5) rotate(-30)">
<text x="0.00" y="0.00" text-anchor="end" textLength="80.72" lengthAdjust="spacingAndGlyphs">2025-12-09</text>
</g>
<g transform="translate(648.40 517.5) rotate(-30)">
<text x="0.00" y="0.00" text-anchor="end" textLength="80.72" lengthAdjust="spacingAndGlyphs">2025-12-11</text>
</g>
<g transform="translate(734.40 517.5) rotate(-30)">
<text x="0.00" y="0.00" text-anchor="end" textLength="80.72" lengthAdjust="spacingAndGlyphs">2025-12-13</text>
</g>
<path d="M221.5 498.5v4.86M307.5 498.5v4.86M393.5 498.5v4.86M479.5 498.5v4.86M564.5 498.5v4.86M650.5 498.5v4.86M736.5 498.5v4.86" stroke="#000" stroke-width="1.11" fill="none"/>
<rect x="0" y="576.6" width="900" height="23.4" fill="#808080"/>
<text y="594.90" class="w" fill="#fff"><tspan x="9.45" textLength="72.78" lengthAdjust="spacingAndGlyphs">Generated</tspan> <tspan x="87.55" textLength="16.14" lengthAdjust="spacingAndGlyphs">by</tspan> <tspan x="109.00" textLength="61.71" lengthAdjust="spacingAndGlyphs">SeedPSD</tspan> <tspan x="176.02" textLength="16.40" lengthAdjust="spacingAndGlyphs">on</tspan> <tspan x="197.74" textLength="79.82" lengthAdjust="spacingAndGlyphs">2025-12-14</tspan> <tspan x="282.87" textLength="3.78" lengthAdjust="spacingAndGlyphs">|</tspan> <tspan x="291.97" textLength="83.82" lengthAdjust="spacingAndGlyphs">Calculations</tspan> <tspan x="381.10" textLength="56.85" lengthAdjust="spacingAndGlyphs">updated</tspan> <tspan x="443.27" textLength="16.40" lengthAdjust="spacingAndGlyphs">on</tspan> <tspan x="464.98" textLength="79.82" lengthAdjust="spacingAndGlyphs">2025-12-13</tspan></text>
</svg>
</body></html>
